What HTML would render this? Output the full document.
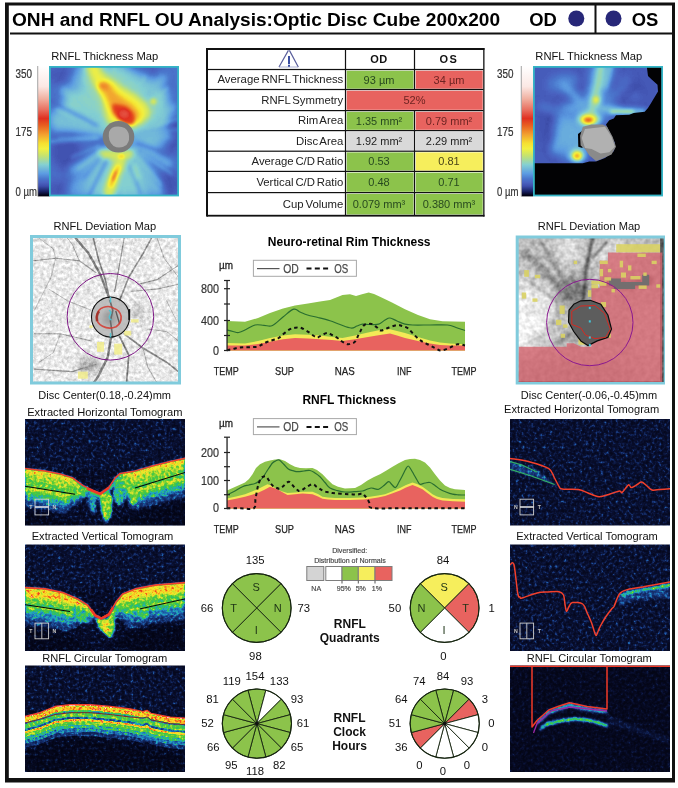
<!DOCTYPE html>
<html><head><meta charset="utf-8"><title>ONH and RNFL OU Analysis</title>
<style>
html,body{margin:0;padding:0;background:#fff;}
svg{display:block;font-family:"Liberation Sans", sans-serif;}
text{font-family:"Liberation Sans",sans-serif;}
</style></head><body>
<svg width="678" height="788" viewBox="0 0 678 788">
<rect x="0" y="0" width="678" height="788" fill="#fff"/>
<rect x="6.5" y="4" width="667" height="776" fill="none" stroke="#111" stroke-width="3"/>
<rect x="5" y="778" width="670" height="4.5" fill="#111"/>
<rect x="5" y="3" width="3.8" height="778" fill="#111"/>
<rect x="10" y="32.5" width="663" height="2" fill="#111"/>
<rect x="594.5" y="5" width="2" height="28" fill="#111"/>
<text x="12" y="26" font-size="19.1" font-weight="bold" text-anchor="start" fill="#000" >ONH and RNFL OU Analysis:Optic Disc Cube 200x200</text>
<text x="543" y="25.5" font-size="18.4" font-weight="bold" text-anchor="middle" fill="#000" >OD</text>
<text x="645" y="25.5" font-size="18.4" font-weight="bold" text-anchor="middle" fill="#000" >OS</text>
<circle cx="576.3" cy="18.5" r="8" fill="#272778"/>
<circle cx="613.5" cy="18.5" r="8" fill="#272778"/>
<rect x="207" y="49" width="276.5" height="166.3" fill="#fff"/>
<text x="379.0" y="63.25" font-size="11" font-weight="bold" text-anchor="middle" fill="#111" letter-spacing="0.6">OD</text>
<text x="449.0" y="63.25" font-size="11" font-weight="bold" text-anchor="middle" fill="#111" letter-spacing="1.6">OS</text>
<rect x="346.7" y="70.7" width="66.8" height="18.0" fill="#8cc34b"/>
<rect x="415.7" y="70.7" width="67.0" height="18.0" fill="#e8635f"/>
<text x="343.3" y="83.3" font-size="11.35" font-weight="normal" text-anchor="end" fill="#222" word-spacing="-1.3">Average RNFL Thickness</text>
<text x="379.0" y="83.5" font-size="11" font-weight="normal" text-anchor="middle" fill="#27491f" >93 µm</text>
<text x="449.0" y="83.5" font-size="11" font-weight="normal" text-anchor="middle" fill="#6e2422" >34 µm</text>
<rect x="346.7" y="90.7" width="136.0" height="19.099999999999994" fill="#e8635f"/>
<text x="343.3" y="103.85" font-size="11.35" font-weight="normal" text-anchor="end" fill="#222" word-spacing="-1.3">RNFL Symmetry</text>
<text x="414.5" y="104.05" font-size="11" font-weight="normal" text-anchor="middle" fill="#6e2422" >52%</text>
<rect x="346.7" y="111.8" width="66.8" height="18.0" fill="#8cc34b"/>
<rect x="415.7" y="111.8" width="67.0" height="18.0" fill="#e8635f"/>
<text x="343.3" y="124.39999999999999" font-size="11.35" font-weight="normal" text-anchor="end" fill="#222" word-spacing="-1.3">Rim Area</text>
<text x="379.0" y="124.6" font-size="11" font-weight="normal" text-anchor="middle" fill="#27491f" >1.35 mm²</text>
<text x="449.0" y="124.6" font-size="11" font-weight="normal" text-anchor="middle" fill="#6e2422" >0.79 mm²</text>
<rect x="346.7" y="131.79999999999998" width="66.8" height="18.599999999999994" fill="#d9d9d9"/>
<rect x="415.7" y="131.79999999999998" width="67.0" height="18.599999999999994" fill="#d9d9d9"/>
<text x="343.3" y="144.7" font-size="11.35" font-weight="normal" text-anchor="end" fill="#222" word-spacing="-1.3">Disc Area</text>
<text x="379.0" y="144.89999999999998" font-size="11" font-weight="normal" text-anchor="middle" fill="#222" >1.92 mm²</text>
<text x="449.0" y="144.89999999999998" font-size="11" font-weight="normal" text-anchor="middle" fill="#222" >2.29 mm²</text>
<rect x="346.7" y="152.39999999999998" width="66.8" height="18.200000000000017" fill="#8cc34b"/>
<rect x="415.7" y="152.39999999999998" width="67.0" height="18.200000000000017" fill="#f6ee5c"/>
<text x="343.3" y="165.10000000000002" font-size="11.35" font-weight="normal" text-anchor="end" fill="#222" word-spacing="-1.3">Average C/D Ratio</text>
<text x="379.0" y="165.3" font-size="11" font-weight="normal" text-anchor="middle" fill="#27491f" >0.53</text>
<text x="449.0" y="165.3" font-size="11" font-weight="normal" text-anchor="middle" fill="#4a4418" >0.81</text>
<rect x="346.7" y="172.6" width="66.8" height="19.19999999999999" fill="#8cc34b"/>
<rect x="415.7" y="172.6" width="67.0" height="19.19999999999999" fill="#8cc34b"/>
<text x="343.3" y="185.8" font-size="11.35" font-weight="normal" text-anchor="end" fill="#222" word-spacing="-1.3">Vertical C/D Ratio</text>
<text x="379.0" y="186.0" font-size="11" font-weight="normal" text-anchor="middle" fill="#27491f" >0.48</text>
<text x="449.0" y="186.0" font-size="11" font-weight="normal" text-anchor="middle" fill="#27491f" >0.71</text>
<rect x="346.7" y="193.79999999999998" width="66.8" height="20.700000000000017" fill="#8cc34b"/>
<rect x="415.7" y="193.79999999999998" width="67.0" height="20.700000000000017" fill="#8cc34b"/>
<text x="343.3" y="207.75" font-size="11.35" font-weight="normal" text-anchor="end" fill="#222" word-spacing="-1.3">Cup Volume</text>
<text x="379.0" y="207.95" font-size="11" font-weight="normal" text-anchor="middle" fill="#27491f" >0.079 mm³</text>
<text x="449.0" y="207.95" font-size="11" font-weight="normal" text-anchor="middle" fill="#27491f" >0.380 mm³</text>
<rect x="207" y="68.9" width="276.5" height="1.2" fill="#111"/>
<rect x="207" y="88.9" width="276.5" height="1.2" fill="#111"/>
<rect x="207" y="110.0" width="276.5" height="1.2" fill="#111"/>
<rect x="207" y="130.0" width="276.5" height="1.2" fill="#111"/>
<rect x="207" y="150.6" width="276.5" height="1.2" fill="#111"/>
<rect x="207" y="170.8" width="276.5" height="1.2" fill="#111"/>
<rect x="207" y="192.0" width="276.5" height="1.2" fill="#111"/>
<rect x="344.9" y="49" width="1.2" height="40.5" fill="#111"/>
<rect x="344.9" y="110.6" width="1.2" height="104.70000000000002" fill="#111"/>
<rect x="344.9" y="89.5" width="1.2" height="21.099999999999994" fill="#111"/>
<rect x="413.9" y="49" width="1.2" height="40.5" fill="#111"/>
<rect x="413.9" y="110.6" width="1.2" height="104.70000000000002" fill="#111"/>
<rect x="207" y="48" width="277.5" height="2" fill="#111"/>
<rect x="207" y="214.8" width="277.5" height="1.8" fill="#111"/>
<rect x="206" y="48" width="2" height="168.60000000000002" fill="#111"/>
<rect x="483.2" y="48" width="1.3" height="168.60000000000002" fill="#111"/>
<g fill="none"><path d="M279 67 L288.4 50.4 M289.4 50.4 L298.3 67" stroke="#5a5f9c" stroke-width="1.2"/><path d="M279 67 H298.3" stroke="#8a8fc0" stroke-width="0.7"/><path d="M289 56 V64.3" stroke="#3a4ea2" stroke-width="2"/><path d="M289 64.9 V66.7" stroke="#3a4ea2" stroke-width="2"/></g>
<text x="104.7" y="59.6" font-size="11.2" font-weight="normal" text-anchor="middle" fill="#111" >RNFL Thickness Map</text>
<text x="588.8" y="59.6" font-size="11.2" font-weight="normal" text-anchor="middle" fill="#111" >RNFL Thickness Map</text>
<text x="104.8" y="229.5" font-size="11.1" font-weight="normal" text-anchor="middle" fill="#111" >RNFL Deviation Map</text>
<text x="589" y="229.5" font-size="11.1" font-weight="normal" text-anchor="middle" fill="#111" >RNFL Deviation Map</text>
<text x="104.7" y="399" font-size="11" font-weight="normal" text-anchor="middle" fill="#111" >Disc Center(0.18,-0.24)mm</text>
<text x="589" y="399" font-size="11" font-weight="normal" text-anchor="middle" fill="#111" >Disc Center(-0.06,-0.45)mm</text>
<text x="104.8" y="415.7" font-size="11.1" font-weight="normal" text-anchor="middle" fill="#111" >Extracted Horizontal Tomogram</text>
<text x="581.7" y="412.9" font-size="11.1" font-weight="normal" text-anchor="middle" fill="#111" >Extracted Horizontal Tomogram</text>
<text x="102.5" y="540.2" font-size="11.1" font-weight="normal" text-anchor="middle" fill="#111" >Extracted Vertical Tomogram</text>
<text x="587" y="540.2" font-size="11.1" font-weight="normal" text-anchor="middle" fill="#111" >Extracted Vertical Tomogram</text>
<text x="104.7" y="661.7" font-size="11.1" font-weight="normal" text-anchor="middle" fill="#111" >RNFL Circular Tomogram</text>
<text x="589.3" y="661.7" font-size="11.1" font-weight="normal" text-anchor="middle" fill="#111" >RNFL Circular Tomogram</text>
<text x="15.5" y="78.3" font-size="12" font-weight="normal" text-anchor="start" fill="#333" textLength="16.5" lengthAdjust="spacingAndGlyphs" stroke="#333" stroke-width="0.2">350</text>
<text x="15.5" y="135.8" font-size="12" font-weight="normal" text-anchor="start" fill="#333" textLength="16.5" lengthAdjust="spacingAndGlyphs" stroke="#333" stroke-width="0.2">175</text>
<text x="15.5" y="196.3" font-size="12" font-weight="normal" text-anchor="start" fill="#333" textLength="21.5" lengthAdjust="spacingAndGlyphs" stroke="#333" stroke-width="0.2">0 µm</text>
<text x="497" y="78.3" font-size="12" font-weight="normal" text-anchor="start" fill="#333" textLength="16.5" lengthAdjust="spacingAndGlyphs" stroke="#333" stroke-width="0.2">350</text>
<text x="497" y="135.8" font-size="12" font-weight="normal" text-anchor="start" fill="#333" textLength="16.5" lengthAdjust="spacingAndGlyphs" stroke="#333" stroke-width="0.2">175</text>
<text x="497" y="196.3" font-size="12" font-weight="normal" text-anchor="start" fill="#333" textLength="21.5" lengthAdjust="spacingAndGlyphs" stroke="#333" stroke-width="0.2">0 µm</text>
<text x="349.2" y="245.8" font-size="12" font-weight="bold" text-anchor="middle" fill="#000" >Neuro-retinal Rim Thickness</text>
<path d="M227.0 321.0 L245.0 321.7 L258.0 318.0 L270.0 313.0 L283.0 308.5 L295.0 305.5 L308.0 303.5 L320.0 301.5 L330.0 300.0 L342.5 295.0 L350.0 294.3 L356.0 296.0 L362.0 294.2 L368.7 292.5 L374.0 294.0 L380.0 296.7 L392.0 302.5 L405.0 309.2 L418.0 315.0 L430.0 319.2 L442.5 321.2 L465.0 321.7 L465 350.5 L227 350.5 Z" fill="#8cc34b"/>
<path d="M227.0 343.0 L245.0 343.5 L258.0 341.0 L270.0 338.0 L283.0 335.5 L295.0 334.2 L308.0 334.8 L320.0 335.5 L332.0 337.0 L342.5 338.0 L355.0 335.5 L368.0 332.5 L380.0 330.0 L390.0 329.2 L397.0 331.0 L405.0 333.0 L418.0 337.0 L430.0 340.5 L440.0 342.5 L450.0 343.5 L465.0 344.2 L465 350.5 L227 350.5 Z" fill="#f3e957"/>
<path d="M227.0 345.5 L245.0 345.5 L258.0 344.0 L270.0 341.7 L283.0 339.3 L295.0 338.0 L308.0 338.6 L320.0 339.2 L332.0 340.0 L342.0 341.0 L355.0 339.2 L368.0 337.0 L380.0 335.0 L390.0 333.5 L397.0 335.5 L405.0 338.0 L418.0 341.0 L430.0 343.5 L440.0 345.0 L450.0 345.5 L465.0 345.5 L465 350.5 L227 350.5 Z" fill="#e8635f"/>
<path d="M227.0 330.0 C228.1 330.3 230.9 331.1 233.0 331.5 C235.1 331.9 236.4 332.9 238.7 332.5 C241.0 332.1 243.1 330.9 246.0 329.5 C248.9 328.1 251.8 325.8 255.0 325.0 C258.2 324.2 260.9 325.2 264.0 325.3 C267.1 325.4 269.1 327.0 272.5 325.5 C275.9 324.0 279.2 319.9 283.0 317.0 C286.8 314.1 290.6 310.1 293.7 309.2 C296.8 308.3 297.5 311.0 300.0 312.0 C302.5 313.0 304.3 314.0 307.5 315.0 C310.7 316.0 313.9 316.5 318.0 317.5 C322.1 318.5 326.0 319.4 330.0 320.7 C334.0 322.0 336.2 323.2 340.0 324.5 C343.8 325.8 347.9 327.7 351.0 328.0 C354.1 328.3 354.9 326.7 357.0 326.0 C359.1 325.3 360.2 324.5 362.5 324.2 C364.8 323.9 367.1 324.5 370.0 324.5 C372.9 324.5 376.0 325.0 378.7 324.2 C381.4 323.4 383.0 321.1 385.0 320.0 C387.0 318.9 387.8 317.8 390.0 318.0 C392.2 318.2 394.3 319.9 397.0 321.0 C399.7 322.1 402.2 323.5 405.0 324.2 C407.8 324.9 408.0 324.9 412.5 325.0 C417.0 325.1 423.7 325.0 430.0 325.0 C436.3 325.0 442.8 324.6 447.5 325.0 C452.2 325.4 452.9 326.5 456.0 327.5 C459.1 328.5 463.4 330.0 465.0 330.5" fill="none" stroke="#2a6e30" stroke-width="1.2"/>
<path d="M227.0 350.3 C228.1 350.1 230.7 349.5 233.0 349.0 C235.3 348.5 237.1 347.8 240.0 347.5 C242.9 347.2 245.8 347.3 249.0 347.2 C252.2 347.1 255.2 347.2 257.5 346.7 C259.8 346.2 260.2 345.4 262.0 344.5 C263.8 343.6 265.5 342.5 267.5 341.7 C269.5 340.9 271.0 340.7 273.0 340.0 C275.0 339.3 276.7 339.2 278.7 338.0 C280.7 336.8 282.0 335.1 284.0 333.5 C286.0 331.9 288.0 330.2 290.0 329.2 C292.0 328.2 293.2 328.1 295.0 327.8 C296.8 327.5 298.2 327.1 300.0 327.5 C301.8 327.9 303.2 329.0 305.0 330.0 C306.8 331.0 308.4 331.9 310.0 333.0 C311.6 334.1 312.6 335.2 314.0 336.0 C315.4 336.8 316.1 337.7 317.5 337.5 C318.9 337.3 320.2 335.8 322.0 335.0 C323.8 334.2 325.7 333.0 327.5 333.0 C329.3 333.0 330.2 334.1 332.0 335.0 C333.8 335.9 335.7 336.8 337.5 338.0 C339.3 339.2 340.2 340.4 342.0 341.5 C343.8 342.6 345.9 343.8 347.5 344.2 C349.1 344.6 349.6 343.9 351.0 343.5 C352.4 343.1 353.6 343.4 355.0 341.7 C356.4 340.0 357.4 336.9 359.0 334.0 C360.6 331.1 362.1 327.3 363.7 325.5 C365.3 323.7 366.4 324.2 368.0 324.0 C369.6 323.8 370.9 323.6 372.5 324.2 C374.1 324.8 375.4 326.4 377.0 327.5 C378.6 328.6 379.0 330.5 381.2 330.5 C383.4 330.5 386.1 328.5 389.0 327.5 C391.9 326.5 395.2 325.3 397.5 325.0 C399.8 324.7 400.2 325.5 402.0 326.0 C403.8 326.5 405.7 326.8 407.5 328.0 C409.3 329.2 410.2 330.7 412.0 332.5 C413.8 334.3 415.5 336.3 417.5 338.0 C419.5 339.7 420.8 340.6 423.0 342.0 C425.2 343.4 427.7 344.3 430.0 345.5 C432.3 346.7 434.0 347.6 436.0 348.5 C438.0 349.4 438.9 350.6 441.2 350.5 C443.5 350.4 446.1 349.1 449.0 348.0 C451.9 346.9 454.6 344.6 457.5 344.2 C460.4 343.8 463.6 345.3 465.0 345.5" fill="none" stroke="#111" stroke-width="2" stroke-dasharray="3.4 3.2"/>
<rect x="226.4" y="280.5" width="1.3" height="70.6" fill="#222"/>
<rect x="224" y="279.9" width="6" height="1.2" fill="#222"/>
<rect x="224" y="288.09999999999997" width="6" height="1.2" fill="#222"/>
<rect x="224" y="303.4" width="6" height="1.2" fill="#222"/>
<rect x="224" y="319.9" width="6" height="1.2" fill="#222"/>
<rect x="224" y="334.9" width="6" height="1.2" fill="#222"/>
<rect x="224" y="349.9" width="6" height="1.2" fill="#222"/>
<text x="219" y="292.9" font-size="12" font-weight="normal" text-anchor="end" fill="#333" textLength="18.0" lengthAdjust="spacingAndGlyphs" stroke="#333" stroke-width="0.2">800</text>
<text x="219" y="325.2" font-size="12" font-weight="normal" text-anchor="end" fill="#333" textLength="18.0" lengthAdjust="spacingAndGlyphs" stroke="#333" stroke-width="0.2">400</text>
<text x="219" y="354.7" font-size="12" font-weight="normal" text-anchor="end" fill="#333" textLength="6.0" lengthAdjust="spacingAndGlyphs" stroke="#333" stroke-width="0.2">0</text>
<text x="226" y="268.5" font-size="11" font-weight="normal" text-anchor="middle" fill="#222" textLength="14" lengthAdjust="spacingAndGlyphs" stroke="#222" stroke-width="0.3">µm</text>
<rect x="253.4" y="260.3" width="103" height="16" fill="#fff" stroke="#a8a8a8" stroke-width="1"/>
<path d="M257 268.6 H279.5" stroke="#555" stroke-width="1.2"/>
<path d="M306.5 268.6 H328.2" stroke="#111" stroke-width="2" stroke-dasharray="5 3.3"/>
<text x="291" y="273.0" font-size="12.5" font-weight="normal" text-anchor="middle" fill="#4a4a4a" textLength="15.5" lengthAdjust="spacingAndGlyphs" stroke="#4a4a4a" stroke-width="0.25">OD</text>
<text x="341.2" y="273.0" font-size="12.5" font-weight="normal" text-anchor="middle" fill="#4a4a4a" textLength="14" lengthAdjust="spacingAndGlyphs" stroke="#4a4a4a" stroke-width="0.25">OS</text>
<text x="349.3" y="404.3" font-size="12" font-weight="bold" text-anchor="middle" fill="#000" >RNFL Thickness</text>
<path d="M227.0 490.5 L236.0 486.5 L245.0 482.5 L249.0 479.0 L252.5 474.2 L256.0 468.0 L260.0 464.2 L265.0 461.8 L270.0 460.5 L275.0 459.6 L280.0 459.2 L285.0 461.0 L290.0 464.2 L295.0 466.8 L300.0 468.0 L306.0 468.2 L312.5 468.0 L317.0 470.0 L322.5 474.2 L327.0 479.0 L332.5 484.2 L338.0 486.8 L345.0 488.5 L355.0 488.0 L361.0 485.0 L367.5 480.5 L374.0 477.0 L380.0 474.2 L386.0 470.7 L392.5 466.7 L399.0 463.0 L405.0 460.0 L410.0 459.0 L415.0 458.7 L420.0 460.0 L425.0 462.5 L430.0 467.5 L435.0 474.2 L440.0 480.5 L445.0 485.5 L450.0 488.0 L455.0 489.2 L465.0 490.0 L465 508.5 L227 508.5 Z" fill="#8cc34b"/>
<path d="M227.0 498.5 L236.0 496.5 L245.0 494.2 L252.0 491.5 L257.5 489.2 L262.0 487.0 L267.5 484.2 L271.0 485.5 L275.0 488.0 L281.0 491.0 L287.5 493.0 L295.0 492.5 L302.5 491.7 L312.5 491.7 L318.0 494.0 L322.5 496.7 L328.0 497.6 L335.0 498.0 L350.0 498.0 L364.0 497.5 L370.0 496.7 L378.0 495.6 L385.0 494.2 L392.0 491.5 L400.0 488.0 L406.0 485.0 L412.5 482.5 L417.0 484.0 L422.5 486.7 L427.0 490.0 L432.5 494.2 L437.0 496.5 L442.5 498.0 L453.0 499.0 L465.0 499.2 L465 508.5 L227 508.5 Z" fill="#f3e957"/>
<path d="M227.0 500.5 L236.0 498.7 L245.0 496.7 L252.0 494.7 L257.5 493.0 L264.0 490.0 L270.0 486.7 L274.0 488.0 L277.5 489.2 L282.0 492.0 L287.5 495.0 L295.0 494.3 L302.5 493.5 L312.5 494.2 L318.0 496.5 L322.5 498.7 L328.0 499.6 L335.0 500.0 L350.0 500.0 L364.0 499.5 L370.0 498.7 L378.0 497.6 L385.0 496.0 L392.0 493.5 L400.0 490.5 L406.0 487.5 L412.5 485.0 L417.0 486.7 L422.5 489.2 L427.0 492.7 L432.5 496.7 L437.0 499.0 L442.5 500.5 L453.0 501.3 L465.0 501.7 L465 508.5 L227 508.5 Z" fill="#e8635f"/>
<path d="M227.0 495.0 C228.3 494.4 231.2 493.0 234.0 491.5 C236.8 490.0 239.8 487.9 242.5 486.7 C245.2 485.5 246.8 485.6 249.0 485.0 C251.2 484.4 253.2 484.2 255.0 483.5 C256.8 482.8 257.6 482.0 259.0 481.0 C260.4 480.0 261.1 479.8 262.5 478.0 C263.9 476.2 265.2 473.7 267.0 471.0 C268.8 468.3 270.9 464.8 272.5 463.0 C274.1 461.2 274.8 461.3 276.0 460.8 C277.2 460.3 277.8 459.3 279.2 460.0 C280.6 460.7 282.3 462.8 284.0 464.5 C285.7 466.2 287.1 468.1 288.7 469.2 C290.3 470.3 291.4 470.2 293.0 470.7 C294.6 471.1 295.5 471.6 297.5 471.7 C299.5 471.8 301.8 471.2 304.0 471.0 C306.2 470.8 308.0 470.1 310.0 470.5 C312.0 470.9 313.2 471.9 315.0 473.0 C316.8 474.1 318.2 475.0 320.0 476.7 C321.8 478.4 323.2 480.5 325.0 482.5 C326.8 484.5 327.8 486.6 330.0 488.0 C332.2 489.4 334.3 489.8 337.0 490.5 C339.7 491.2 341.9 491.8 345.0 492.0 C348.1 492.2 350.9 491.9 354.0 491.7 C357.1 491.5 360.2 491.4 362.5 491.0 C364.8 490.6 365.4 489.8 367.0 489.3 C368.6 488.8 369.8 488.1 371.2 488.0 C372.6 487.9 373.6 488.6 375.0 488.8 C376.4 489.0 377.1 489.8 378.7 489.2 C380.3 488.6 382.2 486.9 384.0 485.5 C385.8 484.1 387.3 481.8 388.7 481.7 C390.1 481.6 390.8 483.8 392.0 484.8 C393.2 485.8 394.2 488.0 395.5 487.5 C396.8 487.0 397.7 484.2 399.0 482.0 C400.3 479.8 401.3 477.8 402.5 475.5 C403.7 473.2 404.5 471.2 405.5 469.5 C406.5 467.8 407.2 466.0 408.2 466.0 C409.2 466.0 410.0 468.0 411.0 469.5 C412.0 471.0 412.6 472.3 413.7 474.2 C414.8 476.1 415.9 478.2 417.0 480.0 C418.1 481.8 418.6 483.7 420.0 484.2 C421.4 484.7 423.2 483.3 425.0 483.0 C426.8 482.7 428.2 482.1 430.0 482.5 C431.8 482.9 433.2 484.3 435.0 485.5 C436.8 486.7 438.0 488.0 440.0 489.2 C442.0 490.4 443.8 491.1 446.0 492.0 C448.2 492.9 450.3 493.7 452.5 494.2 C454.7 494.7 455.8 494.7 458.0 494.8 C460.2 494.9 463.7 495.0 465.0 495.0" fill="none" stroke="#2a6e30" stroke-width="1.2"/>
<path d="M227.0 508.3 C229.3 508.3 235.2 508.3 240.0 508.3 C244.8 508.3 250.9 510.0 253.7 508.3 C256.5 506.6 254.8 502.7 255.5 499.0 C256.2 495.3 256.9 491.0 257.5 488.0 C258.1 485.0 258.3 484.3 259.0 482.5 C259.7 480.7 260.3 479.1 261.2 478.0 C262.1 476.9 263.1 476.7 264.0 476.5 C264.9 476.3 265.3 476.0 266.2 476.7 C267.1 477.4 267.9 478.9 269.0 480.5 C270.1 482.1 271.2 484.2 272.5 485.5 C273.8 486.8 274.6 486.9 276.0 487.5 C277.4 488.1 278.6 489.1 280.0 488.7 C281.4 488.3 282.4 486.8 284.0 485.5 C285.6 484.2 287.3 481.9 288.7 481.7 C290.1 481.5 290.9 483.4 292.0 484.5 C293.1 485.6 294.0 487.0 295.0 488.0 C296.0 489.0 296.6 489.5 297.5 490.0 C298.4 490.5 298.5 491.4 300.0 491.0 C301.5 490.6 303.8 488.7 306.0 487.5 C308.2 486.3 310.5 484.3 312.5 484.2 C314.5 484.1 315.2 485.9 317.0 487.0 C318.8 488.1 320.7 489.6 322.5 490.5 C324.3 491.4 325.2 491.6 327.0 492.0 C328.8 492.4 330.0 492.7 332.5 493.0 C335.0 493.3 337.9 493.6 341.0 493.8 C344.1 494.0 347.1 494.1 350.0 494.2 C352.9 494.3 354.8 494.7 357.0 494.6 C359.2 494.5 361.1 493.2 362.5 493.5 C363.9 493.8 364.1 495.0 365.0 496.0 C365.9 497.0 366.6 497.8 367.5 499.2 C368.4 500.6 369.1 502.4 370.0 504.0 C370.9 505.6 367.1 507.2 372.5 508.0 C377.9 508.8 389.6 508.2 400.0 508.3 C410.4 508.4 418.3 508.3 430.0 508.3 C441.7 508.3 458.7 508.3 465.0 508.3" fill="none" stroke="#111" stroke-width="2" stroke-dasharray="3.4 3.2"/>
<rect x="226.4" y="437.2" width="1.3" height="71.9" fill="#222"/>
<rect x="224" y="436.59999999999997" width="6" height="1.2" fill="#222"/>
<rect x="224" y="451.9" width="6" height="1.2" fill="#222"/>
<rect x="224" y="466.09999999999997" width="6" height="1.2" fill="#222"/>
<rect x="224" y="479.9" width="6" height="1.2" fill="#222"/>
<rect x="224" y="494.09999999999997" width="6" height="1.2" fill="#222"/>
<rect x="224" y="507.9" width="6" height="1.2" fill="#222"/>
<text x="219" y="457.2" font-size="12" font-weight="normal" text-anchor="end" fill="#333" textLength="18.0" lengthAdjust="spacingAndGlyphs" stroke="#333" stroke-width="0.2">200</text>
<text x="219" y="485.2" font-size="12" font-weight="normal" text-anchor="end" fill="#333" textLength="18.0" lengthAdjust="spacingAndGlyphs" stroke="#333" stroke-width="0.2">100</text>
<text x="219" y="512.2" font-size="12" font-weight="normal" text-anchor="end" fill="#333" textLength="6.0" lengthAdjust="spacingAndGlyphs" stroke="#333" stroke-width="0.2">0</text>
<text x="226" y="426.7" font-size="11" font-weight="normal" text-anchor="middle" fill="#222" textLength="14" lengthAdjust="spacingAndGlyphs" stroke="#222" stroke-width="0.3">µm</text>
<rect x="253.4" y="418.6" width="103" height="16" fill="#fff" stroke="#a8a8a8" stroke-width="1"/>
<path d="M257 426.90000000000003 H279.5" stroke="#555" stroke-width="1.2"/>
<path d="M306.5 426.90000000000003 H328.2" stroke="#111" stroke-width="2" stroke-dasharray="5 3.3"/>
<text x="291" y="431.3" font-size="12.5" font-weight="normal" text-anchor="middle" fill="#4a4a4a" textLength="15.5" lengthAdjust="spacingAndGlyphs" stroke="#4a4a4a" stroke-width="0.25">OD</text>
<text x="341.2" y="431.3" font-size="12.5" font-weight="normal" text-anchor="middle" fill="#4a4a4a" textLength="14" lengthAdjust="spacingAndGlyphs" stroke="#4a4a4a" stroke-width="0.25">OS</text>
<text x="226.3" y="375" font-size="11.5" font-weight="normal" text-anchor="middle" fill="#222" textLength="25" lengthAdjust="spacingAndGlyphs" stroke="#222" stroke-width="0.25">TEMP</text>
<text x="284.5" y="375" font-size="11.5" font-weight="normal" text-anchor="middle" fill="#222" textLength="19" lengthAdjust="spacingAndGlyphs" stroke="#222" stroke-width="0.25">SUP</text>
<text x="344.8" y="375" font-size="11.5" font-weight="normal" text-anchor="middle" fill="#222" textLength="20" lengthAdjust="spacingAndGlyphs" stroke="#222" stroke-width="0.25">NAS</text>
<text x="404.2" y="375" font-size="11.5" font-weight="normal" text-anchor="middle" fill="#222" textLength="14.5" lengthAdjust="spacingAndGlyphs" stroke="#222" stroke-width="0.25">INF</text>
<text x="464" y="375" font-size="11.5" font-weight="normal" text-anchor="middle" fill="#222" textLength="25" lengthAdjust="spacingAndGlyphs" stroke="#222" stroke-width="0.25">TEMP</text>
<text x="226.3" y="533.2" font-size="11.5" font-weight="normal" text-anchor="middle" fill="#222" textLength="25" lengthAdjust="spacingAndGlyphs" stroke="#222" stroke-width="0.25">TEMP</text>
<text x="284.5" y="533.2" font-size="11.5" font-weight="normal" text-anchor="middle" fill="#222" textLength="19" lengthAdjust="spacingAndGlyphs" stroke="#222" stroke-width="0.25">SUP</text>
<text x="344.8" y="533.2" font-size="11.5" font-weight="normal" text-anchor="middle" fill="#222" textLength="20" lengthAdjust="spacingAndGlyphs" stroke="#222" stroke-width="0.25">NAS</text>
<text x="404.2" y="533.2" font-size="11.5" font-weight="normal" text-anchor="middle" fill="#222" textLength="14.5" lengthAdjust="spacingAndGlyphs" stroke="#222" stroke-width="0.25">INF</text>
<text x="464" y="533.2" font-size="11.5" font-weight="normal" text-anchor="middle" fill="#222" textLength="25" lengthAdjust="spacingAndGlyphs" stroke="#222" stroke-width="0.25">TEMP</text>
<path d="M256.7 608 L232.38 583.68 A34.4 34.4 0 0 1 281.02 583.68 Z" fill="#8cc34b" stroke="#15240f" stroke-width="0.9" stroke-linejoin="round"/>
<path d="M256.7 608 L281.02 583.68 A34.4 34.4 0 0 1 281.02 632.32 Z" fill="#8cc34b" stroke="#15240f" stroke-width="0.9" stroke-linejoin="round"/>
<path d="M256.7 608 L281.02 632.32 A34.4 34.4 0 0 1 232.38 632.32 Z" fill="#8cc34b" stroke="#15240f" stroke-width="0.9" stroke-linejoin="round"/>
<path d="M256.7 608 L232.38 632.32 A34.4 34.4 0 0 1 232.38 583.68 Z" fill="#8cc34b" stroke="#15240f" stroke-width="0.9" stroke-linejoin="round"/>
<circle cx="256.7" cy="608" r="34.4" fill="none" stroke="#15240f" stroke-width="1.1"/>
<text x="256.2" y="590.5" font-size="11" font-weight="normal" text-anchor="middle" fill="#1d3315" >S</text>
<text x="277.7" y="612" font-size="11" font-weight="normal" text-anchor="middle" fill="#1d3315" >N</text>
<text x="256.2" y="633.5" font-size="11" font-weight="normal" text-anchor="middle" fill="#1d3315" >I</text>
<text x="233.7" y="612" font-size="11" font-weight="normal" text-anchor="middle" fill="#1d3315" >T</text>
<text x="255.2" y="563.7" font-size="11.3" font-weight="normal" text-anchor="middle" fill="#111" >135</text>
<text x="303.7" y="611.7" font-size="11.3" font-weight="normal" text-anchor="middle" fill="#111" >73</text>
<text x="255.39999999999998" y="659.9" font-size="11.3" font-weight="normal" text-anchor="middle" fill="#111" >98</text>
<text x="207.0" y="611.7" font-size="11.3" font-weight="normal" text-anchor="middle" fill="#111" >66</text>
<path d="M444.6 608 L420.28 583.68 A34.4 34.4 0 0 1 468.92 583.68 Z" fill="#f6ee5c" stroke="#15240f" stroke-width="0.9" stroke-linejoin="round"/>
<path d="M444.6 608 L468.92 583.68 A34.4 34.4 0 0 1 468.92 632.32 Z" fill="#e8635f" stroke="#15240f" stroke-width="0.9" stroke-linejoin="round"/>
<path d="M444.6 608 L468.92 632.32 A34.4 34.4 0 0 1 420.28 632.32 Z" fill="#ffffff" stroke="#15240f" stroke-width="0.9" stroke-linejoin="round"/>
<path d="M444.6 608 L420.28 632.32 A34.4 34.4 0 0 1 420.28 583.68 Z" fill="#8cc34b" stroke="#15240f" stroke-width="0.9" stroke-linejoin="round"/>
<circle cx="444.6" cy="608" r="34.4" fill="none" stroke="#15240f" stroke-width="1.1"/>
<text x="444.1" y="590.5" font-size="11" font-weight="normal" text-anchor="middle" fill="#1d3315" >S</text>
<text x="465.6" y="612" font-size="11" font-weight="normal" text-anchor="middle" fill="#1d3315" >T</text>
<text x="444.1" y="633.5" font-size="11" font-weight="normal" text-anchor="middle" fill="#1d3315" >I</text>
<text x="421.6" y="612" font-size="11" font-weight="normal" text-anchor="middle" fill="#1d3315" >N</text>
<text x="443.1" y="563.7" font-size="11.3" font-weight="normal" text-anchor="middle" fill="#111" >84</text>
<text x="491.6" y="611.7" font-size="11.3" font-weight="normal" text-anchor="middle" fill="#111" >1</text>
<text x="443.3" y="659.9" font-size="11.3" font-weight="normal" text-anchor="middle" fill="#111" >0</text>
<text x="394.90000000000003" y="611.7" font-size="11.3" font-weight="normal" text-anchor="middle" fill="#111" >50</text>
<text x="349.7" y="553" font-size="7.1" font-weight="normal" text-anchor="middle" fill="#444" stroke="#444" stroke-width="0.15">Diversified:</text>
<text x="350" y="562.6" font-size="7.1" font-weight="normal" text-anchor="middle" fill="#444" stroke="#444" stroke-width="0.15">Distribution of Normals</text>
<rect x="306.8" y="566.5" width="17.0" height="14" fill="#d4d4d4" stroke="#7d7d7d" stroke-width="1"/>
<rect x="325.8" y="566.5" width="16.19999999999999" height="14" fill="#fff" stroke="#7d7d7d" stroke-width="1"/>
<rect x="342" y="566.5" width="16.30000000000001" height="14" fill="#8cc34b" stroke="#7d7d7d" stroke-width="1"/>
<rect x="358.3" y="566.5" width="16.69999999999999" height="14" fill="#f6ee5c" stroke="#7d7d7d" stroke-width="1"/>
<rect x="375" y="566.5" width="17" height="14" fill="#e8635f" stroke="#7d7d7d" stroke-width="1"/>
<rect x="341.5" y="580.5" width="1" height="3" fill="#555"/>
<rect x="357.8" y="580.5" width="1" height="3" fill="#555"/>
<rect x="374.5" y="580.5" width="1" height="3" fill="#555"/>
<text x="316.3" y="591.3" font-size="7.1" font-weight="normal" text-anchor="middle" fill="#444" stroke="#444" stroke-width="0.15">NA</text>
<text x="343.8" y="591.3" font-size="7.1" font-weight="normal" text-anchor="middle" fill="#444" stroke="#444" stroke-width="0.15">95%</text>
<text x="360.8" y="591.3" font-size="7.1" font-weight="normal" text-anchor="middle" fill="#444" stroke="#444" stroke-width="0.15">5%</text>
<text x="377" y="591.3" font-size="7.1" font-weight="normal" text-anchor="middle" fill="#444" stroke="#444" stroke-width="0.15">1%</text>
<text x="349.8" y="628" font-size="12" font-weight="bold" text-anchor="middle" fill="#111" >RNFL</text>
<text x="349.8" y="642" font-size="12" font-weight="bold" text-anchor="middle" fill="#111" >Quadrants</text>
<text x="349.5" y="722" font-size="12" font-weight="bold" text-anchor="middle" fill="#111" >RNFL</text>
<text x="349.5" y="736" font-size="12" font-weight="bold" text-anchor="middle" fill="#111" >Clock</text>
<text x="349.5" y="750.2" font-size="12" font-weight="bold" text-anchor="middle" fill="#111" >Hours</text>
<path d="M256.9 723.6 L247.94 690.18 A34.6 34.6 0 0 1 265.86 690.18 Z" fill="#8cc34b" stroke="#15240f" stroke-width="0.9" stroke-linejoin="round"/>
<path d="M256.9 723.6 L265.86 690.18 A34.6 34.6 0 0 1 281.37 699.13 Z" fill="#ffffff" stroke="#15240f" stroke-width="0.9" stroke-linejoin="round"/>
<path d="M256.9 723.6 L281.37 699.13 A34.6 34.6 0 0 1 290.32 714.64 Z" fill="#8cc34b" stroke="#15240f" stroke-width="0.9" stroke-linejoin="round"/>
<path d="M256.9 723.6 L290.32 714.64 A34.6 34.6 0 0 1 290.32 732.56 Z" fill="#8cc34b" stroke="#15240f" stroke-width="0.9" stroke-linejoin="round"/>
<path d="M256.9 723.6 L290.32 732.56 A34.6 34.6 0 0 1 281.37 748.07 Z" fill="#8cc34b" stroke="#15240f" stroke-width="0.9" stroke-linejoin="round"/>
<path d="M256.9 723.6 L281.37 748.07 A34.6 34.6 0 0 1 265.86 757.02 Z" fill="#8cc34b" stroke="#15240f" stroke-width="0.9" stroke-linejoin="round"/>
<path d="M256.9 723.6 L265.86 757.02 A34.6 34.6 0 0 1 247.94 757.02 Z" fill="#8cc34b" stroke="#15240f" stroke-width="0.9" stroke-linejoin="round"/>
<path d="M256.9 723.6 L247.94 757.02 A34.6 34.6 0 0 1 232.43 748.07 Z" fill="#8cc34b" stroke="#15240f" stroke-width="0.9" stroke-linejoin="round"/>
<path d="M256.9 723.6 L232.43 748.07 A34.6 34.6 0 0 1 223.48 732.56 Z" fill="#8cc34b" stroke="#15240f" stroke-width="0.9" stroke-linejoin="round"/>
<path d="M256.9 723.6 L223.48 732.56 A34.6 34.6 0 0 1 223.48 714.64 Z" fill="#8cc34b" stroke="#15240f" stroke-width="0.9" stroke-linejoin="round"/>
<path d="M256.9 723.6 L223.48 714.64 A34.6 34.6 0 0 1 232.43 699.13 Z" fill="#8cc34b" stroke="#15240f" stroke-width="0.9" stroke-linejoin="round"/>
<path d="M256.9 723.6 L232.43 699.13 A34.6 34.6 0 0 1 247.94 690.18 Z" fill="#8cc34b" stroke="#15240f" stroke-width="0.9" stroke-linejoin="round"/>
<circle cx="256.9" cy="723.6" r="34.6" fill="none" stroke="#15240f" stroke-width="1.1"/>
<circle cx="256.9" cy="723.6" r="1.8" fill="#111"/>
<text x="255" y="679.5" font-size="11.3" font-weight="normal" text-anchor="middle" fill="#111" >154</text>
<text x="279.3" y="685.3" font-size="11.3" font-weight="normal" text-anchor="middle" fill="#111" >133</text>
<text x="297" y="703.3" font-size="11.3" font-weight="normal" text-anchor="middle" fill="#111" >93</text>
<text x="303" y="726.5" font-size="11.3" font-weight="normal" text-anchor="middle" fill="#111" >61</text>
<text x="297" y="750.8" font-size="11.3" font-weight="normal" text-anchor="middle" fill="#111" >65</text>
<text x="279.3" y="768.5" font-size="11.3" font-weight="normal" text-anchor="middle" fill="#111" >82</text>
<text x="255" y="774.8" font-size="11.3" font-weight="normal" text-anchor="middle" fill="#111" >118</text>
<text x="231.3" y="768.5" font-size="11.3" font-weight="normal" text-anchor="middle" fill="#111" >95</text>
<text x="213.3" y="750.8" font-size="11.3" font-weight="normal" text-anchor="middle" fill="#111" >66</text>
<text x="207.5" y="726.5" font-size="11.3" font-weight="normal" text-anchor="middle" fill="#111" >52</text>
<text x="212.5" y="703.3" font-size="11.3" font-weight="normal" text-anchor="middle" fill="#111" >81</text>
<text x="231.8" y="685.3" font-size="11.3" font-weight="normal" text-anchor="middle" fill="#111" >119</text>
<path d="M444.7 723.6 L435.74 690.18 A34.6 34.6 0 0 1 453.66 690.18 Z" fill="#8cc34b" stroke="#15240f" stroke-width="0.9" stroke-linejoin="round"/>
<path d="M444.7 723.6 L453.66 690.18 A34.6 34.6 0 0 1 469.17 699.13 Z" fill="#8cc34b" stroke="#15240f" stroke-width="0.9" stroke-linejoin="round"/>
<path d="M444.7 723.6 L469.17 699.13 A34.6 34.6 0 0 1 478.12 714.64 Z" fill="#e8635f" stroke="#15240f" stroke-width="0.9" stroke-linejoin="round"/>
<path d="M444.7 723.6 L478.12 714.64 A34.6 34.6 0 0 1 478.12 732.56 Z" fill="#ffffff" stroke="#15240f" stroke-width="0.9" stroke-linejoin="round"/>
<path d="M444.7 723.6 L478.12 732.56 A34.6 34.6 0 0 1 469.17 748.07 Z" fill="#ffffff" stroke="#15240f" stroke-width="0.9" stroke-linejoin="round"/>
<path d="M444.7 723.6 L469.17 748.07 A34.6 34.6 0 0 1 453.66 757.02 Z" fill="#ffffff" stroke="#15240f" stroke-width="0.9" stroke-linejoin="round"/>
<path d="M444.7 723.6 L453.66 757.02 A34.6 34.6 0 0 1 435.74 757.02 Z" fill="#ffffff" stroke="#15240f" stroke-width="0.9" stroke-linejoin="round"/>
<path d="M444.7 723.6 L435.74 757.02 A34.6 34.6 0 0 1 420.23 748.07 Z" fill="#ffffff" stroke="#15240f" stroke-width="0.9" stroke-linejoin="round"/>
<path d="M444.7 723.6 L420.23 748.07 A34.6 34.6 0 0 1 411.28 732.56 Z" fill="#e8635f" stroke="#15240f" stroke-width="0.9" stroke-linejoin="round"/>
<path d="M444.7 723.6 L411.28 732.56 A34.6 34.6 0 0 1 411.28 714.64 Z" fill="#8cc34b" stroke="#15240f" stroke-width="0.9" stroke-linejoin="round"/>
<path d="M444.7 723.6 L411.28 714.64 A34.6 34.6 0 0 1 420.23 699.13 Z" fill="#8cc34b" stroke="#15240f" stroke-width="0.9" stroke-linejoin="round"/>
<path d="M444.7 723.6 L420.23 699.13 A34.6 34.6 0 0 1 435.74 690.18 Z" fill="#8cc34b" stroke="#15240f" stroke-width="0.9" stroke-linejoin="round"/>
<circle cx="444.7" cy="723.6" r="34.6" fill="none" stroke="#15240f" stroke-width="1.1"/>
<circle cx="444.7" cy="723.6" r="1.8" fill="#111"/>
<text x="443" y="679.5" font-size="11.3" font-weight="normal" text-anchor="middle" fill="#111" >84</text>
<text x="467" y="685.3" font-size="11.3" font-weight="normal" text-anchor="middle" fill="#111" >93</text>
<text x="485" y="703.3" font-size="11.3" font-weight="normal" text-anchor="middle" fill="#111" >3</text>
<text x="491.3" y="727" font-size="11.3" font-weight="normal" text-anchor="middle" fill="#111" >0</text>
<text x="485" y="750.8" font-size="11.3" font-weight="normal" text-anchor="middle" fill="#111" >0</text>
<text x="467" y="768.5" font-size="11.3" font-weight="normal" text-anchor="middle" fill="#111" >0</text>
<text x="443" y="774.8" font-size="11.3" font-weight="normal" text-anchor="middle" fill="#111" >0</text>
<text x="419.3" y="768.5" font-size="11.3" font-weight="normal" text-anchor="middle" fill="#111" >0</text>
<text x="401.3" y="750.8" font-size="11.3" font-weight="normal" text-anchor="middle" fill="#111" >36</text>
<text x="395" y="727" font-size="11.3" font-weight="normal" text-anchor="middle" fill="#111" >51</text>
<text x="401.3" y="703.3" font-size="11.3" font-weight="normal" text-anchor="middle" fill="#111" >64</text>
<text x="419.3" y="685.3" font-size="11.3" font-weight="normal" text-anchor="middle" fill="#111" >74</text>
<defs>
<filter id="jet" filterUnits="userSpaceOnUse" x="0" y="0" width="678" height="788" color-interpolation-filters="sRGB">
<feComponentTransfer><feFuncR type="table" tableValues="0.000 0.015 0.045 0.075 0.109 0.147 0.186 0.224 0.253 0.272 0.290 0.290 0.290 0.295 0.313 0.331 0.349 0.370 0.394 0.418 0.443 0.467 0.491 0.516 0.553 0.592 0.631 0.670 0.709 0.747 0.784 0.819 0.853 0.888 0.922 0.950 0.954 0.958 0.962 0.964 0.961 0.959 0.957 0.954 0.952 0.949 0.944 0.938 0.932 0.925 0.919 0.913 0.907 0.901 0.895 0.889 0.883 0.879 0.884 0.889 0.894 0.899 0.904 0.908 0.913 0.917 0.921 0.925 0.929 0.933 0.937 0.941 0.946 0.950 0.955 0.960 0.965 0.970 0.974 0.979 0.984 0.985 0.986 0.987 0.988 0.989 0.991 0.992 0.993 0.994 0.995 0.996 0.997 0.998 0.999 1.000"/><feFuncG type="table" tableValues="0.000 0.015 0.057 0.099 0.144 0.190 0.236 0.282 0.322 0.353 0.385 0.413 0.442 0.473 0.511 0.550 0.588 0.624 0.655 0.687 0.718 0.750 0.781 0.813 0.826 0.837 0.848 0.858 0.869 0.880 0.891 0.902 0.912 0.923 0.933 0.937 0.921 0.905 0.889 0.865 0.827 0.788 0.749 0.710 0.671 0.632 0.593 0.555 0.516 0.477 0.438 0.399 0.362 0.325 0.289 0.253 0.217 0.196 0.234 0.273 0.312 0.351 0.390 0.429 0.463 0.495 0.527 0.559 0.592 0.624 0.656 0.688 0.713 0.737 0.762 0.786 0.810 0.835 0.859 0.883 0.908 0.915 0.921 0.927 0.933 0.940 0.946 0.952 0.958 0.964 0.970 0.976 0.982 0.988 0.994 1.000"/><feFuncB type="table" tableValues="0.031 0.106 0.209 0.313 0.406 0.483 0.559 0.636 0.690 0.722 0.753 0.770 0.788 0.806 0.828 0.850 0.872 0.883 0.873 0.863 0.853 0.844 0.834 0.824 0.769 0.710 0.650 0.591 0.531 0.472 0.423 0.387 0.351 0.315 0.279 0.247 0.231 0.215 0.199 0.188 0.188 0.188 0.188 0.188 0.188 0.188 0.180 0.170 0.160 0.151 0.141 0.131 0.125 0.125 0.125 0.125 0.125 0.133 0.172 0.211 0.249 0.288 0.327 0.366 0.400 0.432 0.464 0.497 0.529 0.561 0.593 0.626 0.655 0.685 0.714 0.744 0.773 0.803 0.833 0.862 0.892 0.901 0.908 0.915 0.922 0.929 0.936 0.943 0.950 0.957 0.965 0.972 0.979 0.986 0.993 1.000"/></feComponentTransfer></filter>
<filter id="bl0" filterUnits="userSpaceOnUse" x="-40" y="-40" width="260" height="260" color-interpolation-filters="sRGB"><feGaussianBlur stdDeviation="1"/></filter>
<filter id="bl1" filterUnits="userSpaceOnUse" x="-40" y="-40" width="260" height="260" color-interpolation-filters="sRGB"><feGaussianBlur stdDeviation="1.6"/></filter>
<filter id="bl2" filterUnits="userSpaceOnUse" x="-40" y="-40" width="260" height="260" color-interpolation-filters="sRGB"><feGaussianBlur stdDeviation="2.5"/></filter>
<filter id="bl3" filterUnits="userSpaceOnUse" x="-40" y="-40" width="260" height="260" color-interpolation-filters="sRGB"><feGaussianBlur stdDeviation="3.5"/></filter>
<filter id="bl4" filterUnits="userSpaceOnUse" x="-40" y="-40" width="260" height="260" color-interpolation-filters="sRGB"><feGaussianBlur stdDeviation="5"/></filter>
<filter id="bl5" filterUnits="userSpaceOnUse" x="-40" y="-40" width="260" height="260" color-interpolation-filters="sRGB"><feGaussianBlur stdDeviation="7"/></filter>
<linearGradient id="cbar" x1="0" y1="0" x2="0" y2="1"><stop offset="0.000" stop-color="rgb(255,255,255)"/><stop offset="0.157" stop-color="rgb(251,232,228)"/><stop offset="0.252" stop-color="rgb(240,176,160)"/><stop offset="0.334" stop-color="rgb(232,112,96)"/><stop offset="0.402" stop-color="rgb(224,48,32)"/><stop offset="0.457" stop-color="rgb(232,96,32)"/><stop offset="0.525" stop-color="rgb(242,160,48)"/><stop offset="0.593" stop-color="rgb(246,224,48)"/><stop offset="0.634" stop-color="rgb(242,240,64)"/><stop offset="0.689" stop-color="rgb(196,226,112)"/><stop offset="0.757" stop-color="rgb(132,208,210)"/><stop offset="0.825" stop-color="rgb(92,156,226)"/><stop offset="0.866" stop-color="rgb(74,118,204)"/><stop offset="0.895" stop-color="rgb(74,98,192)"/><stop offset="0.921" stop-color="rgb(62,78,172)"/><stop offset="0.962" stop-color="rgb(24,32,96)"/><stop offset="0.989" stop-color="rgb(4,4,28)"/><stop offset="1.000" stop-color="rgb(0,0,8)"/></linearGradient>
<clipPath id="clipmap"><rect x="0" y="0" width="130" height="130"/></clipPath>
</defs>
<rect x="38" y="66" width="11.5" height="130.4" fill="url(#cbar)"/>
<rect x="37.3" y="66" width="0.9" height="130.4" fill="#999"/>
<rect x="521.5" y="66" width="11.5" height="130.4" fill="url(#cbar)"/>
<rect x="520.8" y="66" width="0.9" height="130.4" fill="#999"/>
<g transform="translate(49,66)">
<g clip-path="url(#clipmap)"><g filter="url(#jet)"><g filter="url(#bl0)"><rect x="-5" y="-5" width="140" height="140" fill="rgb(33,33,33)"/>
<ellipse cx="17" cy="86" rx="16" ry="19" fill="rgb(22,22,22)" filter="url(#bl4)"/>
<ellipse cx="125" cy="66" rx="8" ry="24" fill="rgb(22,22,22)" filter="url(#bl4)"/>
<ellipse cx="12" cy="9" rx="16" ry="10" fill="rgb(24,24,24)" filter="url(#bl4)"/>
<ellipse cx="94" cy="5" rx="15" ry="7" fill="rgb(23,23,23)" filter="url(#bl3)"/>
<ellipse cx="9" cy="123" rx="13" ry="9" fill="rgb(23,23,23)" filter="url(#bl4)"/>
<ellipse cx="120" cy="118" rx="13" ry="14" fill="rgb(23,23,23)" filter="url(#bl4)"/>
<ellipse cx="40" cy="120" rx="7" ry="10" fill="rgb(26,26,26)" filter="url(#bl3)"/>
<path d="M28.0 0.0 L75.0 0.0 L100.0 8.0 L120.0 28.0 L116.0 64.0 L80.0 72.0 L55.0 68.0 L30.0 64.0 L3.0 64.0 L2.0 46.0 L26.0 38.0 L18.0 22.0 Z" fill="rgb(50,50,50)" filter="url(#bl4)"/>
<path d="M34.0 0.0 L70.0 0.0 L90.0 14.0 L116.0 26.0 L118.0 58.0 L90.0 68.0 L58.0 68.0 L28.0 58.0 L10.0 42.0 L24.0 24.0 L32.0 28.0 Z" fill="rgb(65,65,65)" filter="url(#bl4)"/>
<path d="M2.0 48.0 L30.0 44.0 L56.0 54.0 L56.0 67.0 L30.0 64.0 L4.0 62.0 Z" fill="rgb(57,57,57)" filter="url(#bl3)"/>
<path d="M14.0 24.0 L40.0 46.0 L56.0 60.0" fill="none" stroke="rgb(64,64,64)" stroke-width="6" stroke-linecap="round" stroke-linejoin="round" filter="url(#bl3)"/>
<path d="M85.0 62.0 L124.0 42.0" fill="none" stroke="rgb(60,60,60)" stroke-width="7" stroke-linecap="round" stroke-linejoin="round" filter="url(#bl3)"/>
<path d="M86.0 72.0 L120.0 70.0" fill="none" stroke="rgb(57,57,57)" stroke-width="7" stroke-linecap="round" stroke-linejoin="round" filter="url(#bl3)"/>
<path d="M84.0 80.0 L120.0 98.0" fill="none" stroke="rgb(57,57,57)" stroke-width="7" stroke-linecap="round" stroke-linejoin="round" filter="url(#bl3)"/>
<path d="M88.0 40.0 L114.0 12.0" fill="none" stroke="rgb(57,57,57)" stroke-width="7" stroke-linecap="round" stroke-linejoin="round" filter="url(#bl3)"/>
<ellipse cx="100" cy="74" rx="14" ry="14" fill="rgb(55,55,55)" filter="url(#bl4)"/>
<path d="M50.0 84.0 L90.0 84.0 L106.0 104.0 L114.0 130.0 L18.0 130.0 L28.0 108.0 Z" fill="rgb(50,50,50)" filter="url(#bl4)"/>
<path d="M53.0 84.0 L88.0 84.0 L96.0 104.0 L98.0 130.0 L36.0 130.0 L44.0 106.0 Z" fill="rgb(62,62,62)" filter="url(#bl4)"/>
<path d="M60.0 86.0 L24.0 104.0" fill="none" stroke="rgb(55,55,55)" stroke-width="7" stroke-linecap="round" stroke-linejoin="round" filter="url(#bl3)"/>
<path d="M82.0 88.0 L110.0 126.0" fill="none" stroke="rgb(57,57,57)" stroke-width="6" stroke-linecap="round" stroke-linejoin="round" filter="url(#bl3)"/>
<path d="M59.7 90.3 L39.3 131.2" fill="none" stroke="rgb(26,26,26)" stroke-width="3.3140388671860936" stroke-linecap="round" stroke-linejoin="round" filter="url(#bl1)" opacity="0.55"/>
<path d="M91.9 85.9 L132.0 112.8" fill="none" stroke="rgb(31,31,31)" stroke-width="2.059993053507176" stroke-linecap="round" stroke-linejoin="round" filter="url(#bl1)" opacity="0.55"/>
<path d="M50.4 79.2 L23.1 91.3" fill="none" stroke="rgb(60,60,60)" stroke-width="2.094576809726383" stroke-linecap="round" stroke-linejoin="round" filter="url(#bl1)" opacity="0.55"/>
<path d="M40.7 58.3 L8.2 44.0" fill="none" stroke="rgb(64,64,64)" stroke-width="3.516334307931209" stroke-linecap="round" stroke-linejoin="round" filter="url(#bl1)" opacity="0.55"/>
<path d="M47.6 59.3 L1.1 34.8" fill="none" stroke="rgb(26,26,26)" stroke-width="2.890663836699348" stroke-linecap="round" stroke-linejoin="round" filter="url(#bl1)" opacity="0.55"/>
<path d="M86.3 89.4 L112.5 118.5" fill="none" stroke="rgb(64,64,64)" stroke-width="2.493570918563095" stroke-linecap="round" stroke-linejoin="round" filter="url(#bl1)" opacity="0.55"/>
<path d="M78.4 50.5 L95.9 10.9" fill="none" stroke="rgb(66,66,66)" stroke-width="2.30059364285943" stroke-linecap="round" stroke-linejoin="round" filter="url(#bl1)" opacity="0.55"/>
<path d="M92.9 87.2 L122.6 108.1" fill="none" stroke="rgb(64,64,64)" stroke-width="2.3295339405109226" stroke-linecap="round" stroke-linejoin="round" filter="url(#bl1)" opacity="0.55"/>
<path d="M58.9 48.0 L45.2 18.8" fill="none" stroke="rgb(64,64,64)" stroke-width="3.4775062138221786" stroke-linecap="round" stroke-linejoin="round" filter="url(#bl1)" opacity="0.55"/>
<path d="M54.7 88.4 L35.1 111.6" fill="none" stroke="rgb(31,31,31)" stroke-width="2.130968017273232" stroke-linecap="round" stroke-linejoin="round" filter="url(#bl1)" opacity="0.55"/>
<path d="M61.4 95.5 L51.4 126.2" fill="none" stroke="rgb(60,60,60)" stroke-width="2.4607004238242984" stroke-linecap="round" stroke-linejoin="round" filter="url(#bl1)" opacity="0.55"/>
<path d="M90.8 68.1 L129.6 63.3" fill="none" stroke="rgb(55,55,55)" stroke-width="2.2431752554568076" stroke-linecap="round" stroke-linejoin="round" filter="url(#bl1)" opacity="0.55"/>
<path d="M49.1 72.2 L1.6 75.5" fill="none" stroke="rgb(64,64,64)" stroke-width="2.9168415044438145" stroke-linecap="round" stroke-linejoin="round" filter="url(#bl1)" opacity="0.55"/>
<path d="M86.4 54.0 L118.3 22.3" fill="none" stroke="rgb(64,64,64)" stroke-width="2.79467967247838" stroke-linecap="round" stroke-linejoin="round" filter="url(#bl1)" opacity="0.55"/>
<path d="M75.5 50.9 L84.3 22.2" fill="none" stroke="rgb(55,55,55)" stroke-width="2.758557339871431" stroke-linecap="round" stroke-linejoin="round" filter="url(#bl1)" opacity="0.55"/>
<path d="M58.9 53.0 L34.0 11.6" fill="none" stroke="rgb(66,66,66)" stroke-width="2.924713969148349" stroke-linecap="round" stroke-linejoin="round" filter="url(#bl1)" opacity="0.55"/>
<path d="M58.9 47.8 L40.4 7.7" fill="none" stroke="rgb(66,66,66)" stroke-width="2.555208409101521" stroke-linecap="round" stroke-linejoin="round" filter="url(#bl1)" opacity="0.55"/>
<path d="M92.1 62.0 L131.3 46.6" fill="none" stroke="rgb(60,60,60)" stroke-width="2.0943270709300967" stroke-linecap="round" stroke-linejoin="round" filter="url(#bl1)" opacity="0.55"/>
<path d="M72.0 49.4 L75.8 15.7" fill="none" stroke="rgb(60,60,60)" stroke-width="3.4669059618880986" stroke-linecap="round" stroke-linejoin="round" filter="url(#bl1)" opacity="0.55"/>
<path d="M47.5 71.3 L9.5 72.1" fill="none" stroke="rgb(55,55,55)" stroke-width="3.41341412230642" stroke-linecap="round" stroke-linejoin="round" filter="url(#bl1)" opacity="0.55"/>
<path d="M82.3 43.3 L93.3 19.7" fill="none" stroke="rgb(60,60,60)" stroke-width="3.5783473296018977" stroke-linecap="round" stroke-linejoin="round" filter="url(#bl1)" opacity="0.55"/>
<path d="M59.4 48.4 L47.0 20.7" fill="none" stroke="rgb(26,26,26)" stroke-width="2.2819483655845927" stroke-linecap="round" stroke-linejoin="round" filter="url(#bl1)" opacity="0.55"/>
<path d="M72.1 93.5 L76.6 132.9" fill="none" stroke="rgb(64,64,64)" stroke-width="2.2917485983699155" stroke-linecap="round" stroke-linejoin="round" filter="url(#bl1)" opacity="0.55"/>
<path d="M65.2 92.1 L56.7 133.6" fill="none" stroke="rgb(64,64,64)" stroke-width="2.906145957930227" stroke-linecap="round" stroke-linejoin="round" filter="url(#bl1)" opacity="0.55"/>
<path d="M96.6 62.6 L130.2 52.4" fill="none" stroke="rgb(64,64,64)" stroke-width="3.047946341946126" stroke-linecap="round" stroke-linejoin="round" filter="url(#bl1)" opacity="0.55"/>
<path d="M67.9 45.4 L64.7 -3.2" fill="none" stroke="rgb(66,66,66)" stroke-width="3.276596993914506" stroke-linecap="round" stroke-linejoin="round" filter="url(#bl1)" opacity="0.55"/>
<path d="M50.2 86.3 L29.6 102.8" fill="none" stroke="rgb(66,66,66)" stroke-width="2.640708208826158" stroke-linecap="round" stroke-linejoin="round" filter="url(#bl1)" opacity="0.55"/>
<path d="M81.1 100.4 L91.8 127.8" fill="none" stroke="rgb(26,26,26)" stroke-width="2.5440858435717493" stroke-linecap="round" stroke-linejoin="round" filter="url(#bl1)" opacity="0.55"/>
<path d="M88.4 77.3 L119.2 87.8" fill="none" stroke="rgb(26,26,26)" stroke-width="3.518318013711094" stroke-linecap="round" stroke-linejoin="round" filter="url(#bl1)" opacity="0.55"/>
<path d="M53.8 57.1 L28.5 35.3" fill="none" stroke="rgb(60,60,60)" stroke-width="2.237680776529426" stroke-linecap="round" stroke-linejoin="round" filter="url(#bl1)" opacity="0.55"/>
<path d="M35.0 -3.0 L51.0 -3.0 L55.0 7.0 L66.0 13.0 L76.0 20.0 L88.0 27.0 L100.0 37.0 L104.0 49.0 L95.0 59.0 L84.0 63.0 L58.0 59.0 L54.0 47.0 L52.0 38.0 L48.0 29.0 L42.0 18.0 L38.0 8.0 Z" fill="rgb(76,76,76)" filter="url(#bl3)"/>
<path d="M38.0 -2.0 L48.0 -2.0 L52.0 8.0 L63.0 15.0 L72.0 22.0 L84.0 29.0 L96.0 38.0 L100.0 48.0 L92.0 56.0 L84.0 60.0 L60.0 56.0 L57.0 46.0 L55.0 38.0 L52.0 29.0 L46.0 18.0 L42.0 8.0 Z" fill="rgb(93,93,93)" filter="url(#bl2)"/>
<ellipse cx="104.5" cy="35.5" rx="3" ry="3" fill="rgb(89,89,89)" filter="url(#bl1)"/>
<path d="M49.0 17.0 L56.0 16.0 L63.0 19.0 L66.0 25.0 L71.0 29.0 L78.0 34.0 L84.4 38.0 L92.0 48.0 L88.0 56.0 L70.0 54.0 L63.0 48.0 L59.4 38.0 L55.6 29.0 L51.0 24.0 Z" fill="rgb(120,120,120)" filter="url(#bl2)"/>
<ellipse cx="55" cy="20" rx="5" ry="3.5" fill="rgb(128,128,128)" filter="url(#bl1)" transform="rotate(20 55 20)"/>
<path d="M63.0 38.0 L70.0 38.5 L76.7 40.0 L84.0 46.0 L86.0 52.0 L84.4 58.5 L76.7 58.5 L69.0 53.0 L64.0 46.0 Z" fill="rgb(150,150,150)" filter="url(#bl1)"/>
<ellipse cx="75" cy="48" rx="5.5" ry="4.5" fill="rgb(161,161,161)" filter="url(#bl1)"/>
<path d="M49.0 84.0 L85.0 84.0 L83.0 92.0 L70.0 95.5 L52.0 92.0 Z" fill="rgb(85,85,85)" filter="url(#bl2)"/>
<ellipse cx="72.3" cy="90.7" rx="3" ry="2" fill="rgb(120,120,120)" filter="url(#bl0)"/>
<path d="M71.0 97.0 L66.0 108.0 L60.0 126.0" fill="none" stroke="rgb(88,88,88)" stroke-width="10.5" stroke-linecap="round" stroke-linejoin="round" filter="url(#bl2)"/>
<path d="M69.0 102.0 L65.0 110.0 L62.0 119.0" fill="none" stroke="rgb(115,115,115)" stroke-width="4.5" stroke-linecap="round" stroke-linejoin="round" filter="url(#bl1)"/>
<path d="M67.0 106.0 L64.0 114.0" fill="none" stroke="rgb(138,138,138)" stroke-width="2.6" stroke-linecap="round" stroke-linejoin="round" filter="url(#bl0)"/>
<path d="M85.0 100.0 L89.0 112.0" fill="none" stroke="rgb(71,71,71)" stroke-width="4" stroke-linecap="round" stroke-linejoin="round" filter="url(#bl2)"/></g></g>
<circle cx="69.5" cy="70.8" r="15.8" fill="#7b7b7b"/><path d="M60 66 Q62 60.5 69 60.6 Q77 60.5 79.5 67 Q81.5 74 77.5 79 Q71 83.5 64.5 80 Q58.5 75 60 66Z" fill="#a9a9a9"/>
</g><rect x="0.9" y="0.9" width="128.2" height="128.6" fill="none" stroke="#35b5c6" stroke-width="1.8"/></g>
<g transform="translate(533,66)">
<g clip-path="url(#clipmap)"><g filter="url(#jet)"><g filter="url(#bl0)"><rect x="-5" y="-5" width="140" height="140" fill="rgb(25,25,25)"/>
<ellipse cx="14" cy="60" rx="10" ry="16" fill="rgb(22,22,22)" filter="url(#bl4)"/>
<ellipse cx="100" cy="22" rx="12" ry="10" fill="rgb(22,22,22)" filter="url(#bl4)"/>
<ellipse cx="40" cy="10" rx="10" ry="6" fill="rgb(22,22,22)" filter="url(#bl3)"/>
<path d="M56.0 0.0 L82.0 0.0 L76.0 28.0 L84.0 46.0 L62.0 62.0 L54.0 92.0 L30.0 94.0 L20.0 80.0 L26.0 50.0 L44.0 36.0 L56.0 24.0 Z" fill="rgb(43,43,43)" filter="url(#bl4)"/>
<path d="M30.0 38.0 L56.0 40.0 L58.0 60.0 L50.0 86.0 L32.0 88.0 L24.0 66.0 Z" fill="rgb(51,51,51)" filter="url(#bl4)"/>
<ellipse cx="30" cy="16" rx="16" ry="9" fill="rgb(37,37,37)" filter="url(#bl3)" transform="rotate(-15 30 16)"/>
<ellipse cx="92" cy="14" rx="7" ry="5" fill="rgb(32,32,32)" filter="url(#bl3)"/>
<ellipse cx="102" cy="30" rx="5" ry="4" fill="rgb(32,32,32)" filter="url(#bl3)"/>
<path d="M68.0 0.0 L66.0 14.0 L62.0 30.0 L58.0 50.0" fill="none" stroke="rgb(62,62,62)" stroke-width="10" stroke-linecap="round" stroke-linejoin="round" filter="url(#bl3)"/>
<path d="M77.0 0.0 L71.0 20.0" fill="none" stroke="rgb(60,60,60)" stroke-width="6" stroke-linecap="round" stroke-linejoin="round" filter="url(#bl2)"/>
<path d="M52.0 58.0 L34.0 66.0 L22.0 84.0" fill="none" stroke="rgb(51,51,51)" stroke-width="7" stroke-linecap="round" stroke-linejoin="round" filter="url(#bl3)"/>
<path d="M54.0 46.0 L40.0 28.0 L30.0 18.0" fill="none" stroke="rgb(51,51,51)" stroke-width="7" stroke-linecap="round" stroke-linejoin="round" filter="url(#bl3)"/>
<path d="M50.0 52.0 L28.0 46.0 L8.0 40.0" fill="none" stroke="rgb(38,38,38)" stroke-width="6" stroke-linecap="round" stroke-linejoin="round" filter="url(#bl3)"/>
<path d="M66.0 42.0 L92.0 45.0 L110.0 46.0" fill="none" stroke="rgb(60,60,60)" stroke-width="6" stroke-linecap="round" stroke-linejoin="round" filter="url(#bl2)"/>
<path d="M72.0 36.0 L92.0 20.0" fill="none" stroke="rgb(38,38,38)" stroke-width="5" stroke-linecap="round" stroke-linejoin="round" filter="url(#bl3)"/>
<path d="M68.0 0.0 L66.0 14.0 L63.0 28.0" fill="none" stroke="rgb(76,76,76)" stroke-width="4" stroke-linecap="round" stroke-linejoin="round" filter="url(#bl2)"/>
<path d="M62.0 36.0 L57.0 48.0" fill="none" stroke="rgb(76,76,76)" stroke-width="4" stroke-linecap="round" stroke-linejoin="round" filter="url(#bl2)"/>
<ellipse cx="63" cy="33.8" rx="5" ry="6" fill="rgb(74,74,74)" filter="url(#bl2)"/>
<ellipse cx="63" cy="33.8" rx="2.6" ry="3" fill="rgb(96,96,96)" filter="url(#bl1)"/>
<ellipse cx="56" cy="53" rx="12" ry="7" fill="rgb(74,74,74)" filter="url(#bl2)"/>
<ellipse cx="55.5" cy="53.5" rx="7.5" ry="4.5" fill="rgb(105,105,105)" filter="url(#bl1)"/>
<ellipse cx="55.3" cy="54" rx="4" ry="2.2" fill="rgb(143,143,143)" filter="url(#bl0)"/>
<path d="M78.0 45.6 L100.0 45.6" fill="none" stroke="rgb(84,84,84)" stroke-width="2.6" stroke-linecap="round" stroke-linejoin="round" filter="url(#bl1)"/>
<ellipse cx="44.2" cy="89.6" rx="8" ry="7" fill="rgb(71,71,71)" filter="url(#bl2)"/>
<ellipse cx="44.2" cy="89.6" rx="4.6" ry="4" fill="rgb(102,102,102)" filter="url(#bl1)"/>
<ellipse cx="44" cy="90" rx="2.4" ry="2" fill="rgb(128,128,128)" filter="url(#bl0)"/></g></g>
<path d="M113.5 -2 L115 10 L118.4 13.3 L124.5 18.8 L125 25.4 L121.7 31 L118.4 36.5 L115 42 L111.7 45.8 L100.7 47.1 L96.2 48.7 L83 49.3 L80.8 52.4 L76.3 54.2 L73 58.6 L76 65 L82 77 L81 85 L72 92 L63 95.4 L56.4 95.6 L49.8 97.3 L-2 97.3 L-2 132 L132 132 L132 -2 Z" fill="#020204"/>
<path d="M49 65 L45 68 L45.3 80.7 L49.5 82 Z" fill="#020204"/>
<path d="M49.8 60.8 L58.6 58.6 L69.7 58.6 L74.1 60.8 L79.6 70.8 L83 80.7 L78.5 88.5 L68.6 92.9 L63 95 L56.4 89.6 L52 83 L47.6 79.6 L47.1 69.7 Z" fill="#8a8a8a"/>
<path d="M52 63 L72 60.8 L78.5 70.8 L81.9 80.7 L76.3 86.3 L67.5 87.4 L58.6 83 L52 81.9 L48.7 71.9 Z" fill="#b1b1b1"/>
</g><rect x="0.9" y="0.9" width="128.2" height="128.6" fill="none" stroke="#35b5c6" stroke-width="1.8"/></g>
<defs>
<filter id="oct1" filterUnits="userSpaceOnUse" x="0" y="0" width="160" height="107" color-interpolation-filters="sRGB">
<feTurbulence type="fractalNoise" baseFrequency="0.33" numOctaves="2" seed="3" result="n"/>
<feColorMatrix in="n" type="matrix" values="1 0 0 0 0  1 0 0 0 0  1 0 0 0 0  0 0 0 0 1" result="n1"/>
<feGaussianBlur in="n1" stdDeviation="0.5" result="nm"/>
<feComponentTransfer in="nm" result="ns"><feFuncR type="gamma" amplitude="1.7" exponent="3" offset="0"/><feFuncG type="gamma" amplitude="1.7" exponent="3" offset="0"/><feFuncB type="gamma" amplitude="1.7" exponent="3" offset="0"/></feComponentTransfer>
<feGaussianBlur in="SourceGraphic" stdDeviation="0.9" result="sb"/>
<feComposite in="sb" in2="nm" operator="arithmetic" k1="0.48" k2="0.76" k3="0" k4="0" result="c1"/>
<feComposite in="sb" in2="ns" operator="arithmetic" k1="-0.31" k2="0" k3="0.31" k4="0.025" result="c2"/>
<feComposite in="c1" in2="c2" operator="arithmetic" k1="0" k2="1" k3="1" k4="0" result="c"/>
<feComponentTransfer in="c"><feFuncR type="table" tableValues="0.012 0.014 0.016 0.018 0.020 0.022 0.024 0.026 0.028 0.030 0.032 0.034 0.037 0.039 0.042 0.046 0.050 0.054 0.059 0.063 0.067 0.071 0.075 0.079 0.083 0.088 0.092 0.096 0.100 0.104 0.107 0.110 0.113 0.116 0.119 0.122 0.125 0.127 0.128 0.129 0.130 0.131 0.132 0.135 0.144 0.152 0.160 0.168 0.177 0.185 0.201 0.221 0.242 0.263 0.283 0.304 0.324 0.345 0.391 0.438 0.484 0.530 0.576 0.622 0.669 0.715 0.761 0.797 0.821 0.846 0.871 0.896 0.921 0.945 0.970 0.973 0.973 0.973 0.973 0.973 0.973 0.973 0.971 0.966 0.962 0.957 0.952 0.948 0.943 0.944 0.949 0.954 0.958 0.963 0.968 0.973"/><feFuncG type="table" tableValues="0.016 0.019 0.023 0.026 0.029 0.033 0.037 0.041 0.046 0.051 0.055 0.060 0.065 0.069 0.078 0.088 0.098 0.109 0.119 0.129 0.140 0.150 0.164 0.177 0.191 0.204 0.217 0.231 0.244 0.263 0.288 0.313 0.338 0.362 0.387 0.412 0.437 0.471 0.506 0.542 0.577 0.613 0.648 0.677 0.689 0.701 0.713 0.725 0.736 0.748 0.757 0.763 0.769 0.775 0.781 0.788 0.794 0.800 0.808 0.817 0.825 0.833 0.841 0.850 0.858 0.866 0.874 0.880 0.885 0.889 0.893 0.897 0.901 0.905 0.909 0.876 0.839 0.802 0.765 0.728 0.691 0.653 0.609 0.548 0.486 0.425 0.364 0.302 0.241 0.290 0.399 0.507 0.616 0.724 0.833 0.941"/><feFuncB type="table" tableValues="0.059 0.071 0.082 0.094 0.106 0.117 0.129 0.140 0.152 0.163 0.174 0.186 0.197 0.208 0.225 0.245 0.265 0.284 0.304 0.324 0.343 0.363 0.386 0.408 0.431 0.454 0.477 0.499 0.522 0.546 0.570 0.595 0.620 0.645 0.670 0.694 0.719 0.726 0.731 0.735 0.740 0.745 0.749 0.739 0.682 0.626 0.569 0.512 0.456 0.399 0.364 0.343 0.323 0.302 0.282 0.261 0.240 0.220 0.216 0.213 0.210 0.206 0.203 0.200 0.196 0.193 0.190 0.186 0.182 0.178 0.174 0.170 0.166 0.161 0.157 0.153 0.149 0.145 0.141 0.137 0.133 0.128 0.124 0.119 0.115 0.110 0.105 0.100 0.096 0.177 0.304 0.432 0.559 0.686 0.814 0.941"/><feFuncA type="linear" slope="0" intercept="1"/></feComponentTransfer></filter>
<filter id="oct2" filterUnits="userSpaceOnUse" x="0" y="0" width="160" height="107" color-interpolation-filters="sRGB">
<feTurbulence type="fractalNoise" baseFrequency="0.33" numOctaves="2" seed="11" result="n"/>
<feColorMatrix in="n" type="matrix" values="1 0 0 0 0  1 0 0 0 0  1 0 0 0 0  0 0 0 0 1" result="n1"/>
<feGaussianBlur in="n1" stdDeviation="0.5" result="nm"/>
<feComponentTransfer in="nm" result="ns"><feFuncR type="gamma" amplitude="1.7" exponent="3" offset="0"/><feFuncG type="gamma" amplitude="1.7" exponent="3" offset="0"/><feFuncB type="gamma" amplitude="1.7" exponent="3" offset="0"/></feComponentTransfer>
<feGaussianBlur in="SourceGraphic" stdDeviation="0.9" result="sb"/>
<feComposite in="sb" in2="nm" operator="arithmetic" k1="0.48" k2="0.76" k3="0" k4="0" result="c1"/>
<feComposite in="sb" in2="ns" operator="arithmetic" k1="-0.31" k2="0" k3="0.31" k4="0.025" result="c2"/>
<feComposite in="c1" in2="c2" operator="arithmetic" k1="0" k2="1" k3="1" k4="0" result="c"/>
<feComponentTransfer in="c"><feFuncR type="table" tableValues="0.012 0.014 0.016 0.018 0.020 0.022 0.024 0.026 0.028 0.030 0.032 0.034 0.037 0.039 0.042 0.046 0.050 0.054 0.059 0.063 0.067 0.071 0.075 0.079 0.083 0.088 0.092 0.096 0.100 0.104 0.107 0.110 0.113 0.116 0.119 0.122 0.125 0.127 0.128 0.129 0.130 0.131 0.132 0.135 0.144 0.152 0.160 0.168 0.177 0.185 0.201 0.221 0.242 0.263 0.283 0.304 0.324 0.345 0.391 0.438 0.484 0.530 0.576 0.622 0.669 0.715 0.761 0.797 0.821 0.846 0.871 0.896 0.921 0.945 0.970 0.973 0.973 0.973 0.973 0.973 0.973 0.973 0.971 0.966 0.962 0.957 0.952 0.948 0.943 0.944 0.949 0.954 0.958 0.963 0.968 0.973"/><feFuncG type="table" tableValues="0.016 0.019 0.023 0.026 0.029 0.033 0.037 0.041 0.046 0.051 0.055 0.060 0.065 0.069 0.078 0.088 0.098 0.109 0.119 0.129 0.140 0.150 0.164 0.177 0.191 0.204 0.217 0.231 0.244 0.263 0.288 0.313 0.338 0.362 0.387 0.412 0.437 0.471 0.506 0.542 0.577 0.613 0.648 0.677 0.689 0.701 0.713 0.725 0.736 0.748 0.757 0.763 0.769 0.775 0.781 0.788 0.794 0.800 0.808 0.817 0.825 0.833 0.841 0.850 0.858 0.866 0.874 0.880 0.885 0.889 0.893 0.897 0.901 0.905 0.909 0.876 0.839 0.802 0.765 0.728 0.691 0.653 0.609 0.548 0.486 0.425 0.364 0.302 0.241 0.290 0.399 0.507 0.616 0.724 0.833 0.941"/><feFuncB type="table" tableValues="0.059 0.071 0.082 0.094 0.106 0.117 0.129 0.140 0.152 0.163 0.174 0.186 0.197 0.208 0.225 0.245 0.265 0.284 0.304 0.324 0.343 0.363 0.386 0.408 0.431 0.454 0.477 0.499 0.522 0.546 0.570 0.595 0.620 0.645 0.670 0.694 0.719 0.726 0.731 0.735 0.740 0.745 0.749 0.739 0.682 0.626 0.569 0.512 0.456 0.399 0.364 0.343 0.323 0.302 0.282 0.261 0.240 0.220 0.216 0.213 0.210 0.206 0.203 0.200 0.196 0.193 0.190 0.186 0.182 0.178 0.174 0.170 0.166 0.161 0.157 0.153 0.149 0.145 0.141 0.137 0.133 0.128 0.124 0.119 0.115 0.110 0.105 0.100 0.096 0.177 0.304 0.432 0.559 0.686 0.814 0.941"/><feFuncA type="linear" slope="0" intercept="1"/></feComponentTransfer></filter>
<filter id="oct3" filterUnits="userSpaceOnUse" x="0" y="0" width="160" height="107" color-interpolation-filters="sRGB">
<feTurbulence type="fractalNoise" baseFrequency="0.33" numOctaves="2" seed="23" result="n"/>
<feColorMatrix in="n" type="matrix" values="1 0 0 0 0  1 0 0 0 0  1 0 0 0 0  0 0 0 0 1" result="n1"/>
<feGaussianBlur in="n1" stdDeviation="0.5" result="nm"/>
<feComponentTransfer in="nm" result="ns"><feFuncR type="gamma" amplitude="1.7" exponent="3" offset="0"/><feFuncG type="gamma" amplitude="1.7" exponent="3" offset="0"/><feFuncB type="gamma" amplitude="1.7" exponent="3" offset="0"/></feComponentTransfer>
<feGaussianBlur in="SourceGraphic" stdDeviation="0.6" result="sb"/>
<feComposite in="sb" in2="nm" operator="arithmetic" k1="0.48" k2="0.76" k3="0" k4="0" result="c1"/>
<feComposite in="sb" in2="ns" operator="arithmetic" k1="-0.31" k2="0" k3="0.31" k4="0.025" result="c2"/>
<feComposite in="c1" in2="c2" operator="arithmetic" k1="0" k2="1" k3="1" k4="0" result="c"/>
<feComponentTransfer in="c"><feFuncR type="table" tableValues="0.012 0.014 0.016 0.018 0.020 0.022 0.024 0.026 0.028 0.030 0.032 0.034 0.037 0.039 0.042 0.046 0.050 0.054 0.059 0.063 0.067 0.071 0.075 0.079 0.083 0.088 0.092 0.096 0.100 0.104 0.107 0.110 0.113 0.116 0.119 0.122 0.125 0.127 0.128 0.129 0.130 0.131 0.132 0.135 0.144 0.152 0.160 0.168 0.177 0.185 0.201 0.221 0.242 0.263 0.283 0.304 0.324 0.345 0.391 0.438 0.484 0.530 0.576 0.622 0.669 0.715 0.761 0.797 0.821 0.846 0.871 0.896 0.921 0.945 0.970 0.973 0.973 0.973 0.973 0.973 0.973 0.973 0.971 0.966 0.962 0.957 0.952 0.948 0.943 0.944 0.949 0.954 0.958 0.963 0.968 0.973"/><feFuncG type="table" tableValues="0.016 0.019 0.023 0.026 0.029 0.033 0.037 0.041 0.046 0.051 0.055 0.060 0.065 0.069 0.078 0.088 0.098 0.109 0.119 0.129 0.140 0.150 0.164 0.177 0.191 0.204 0.217 0.231 0.244 0.263 0.288 0.313 0.338 0.362 0.387 0.412 0.437 0.471 0.506 0.542 0.577 0.613 0.648 0.677 0.689 0.701 0.713 0.725 0.736 0.748 0.757 0.763 0.769 0.775 0.781 0.788 0.794 0.800 0.808 0.817 0.825 0.833 0.841 0.850 0.858 0.866 0.874 0.880 0.885 0.889 0.893 0.897 0.901 0.905 0.909 0.876 0.839 0.802 0.765 0.728 0.691 0.653 0.609 0.548 0.486 0.425 0.364 0.302 0.241 0.290 0.399 0.507 0.616 0.724 0.833 0.941"/><feFuncB type="table" tableValues="0.059 0.071 0.082 0.094 0.106 0.117 0.129 0.140 0.152 0.163 0.174 0.186 0.197 0.208 0.225 0.245 0.265 0.284 0.304 0.324 0.343 0.363 0.386 0.408 0.431 0.454 0.477 0.499 0.522 0.546 0.570 0.595 0.620 0.645 0.670 0.694 0.719 0.726 0.731 0.735 0.740 0.745 0.749 0.739 0.682 0.626 0.569 0.512 0.456 0.399 0.364 0.343 0.323 0.302 0.282 0.261 0.240 0.220 0.216 0.213 0.210 0.206 0.203 0.200 0.196 0.193 0.190 0.186 0.182 0.178 0.174 0.170 0.166 0.161 0.157 0.153 0.149 0.145 0.141 0.137 0.133 0.128 0.124 0.119 0.115 0.110 0.105 0.100 0.096 0.177 0.304 0.432 0.559 0.686 0.814 0.941"/><feFuncA type="linear" slope="0" intercept="1"/></feComponentTransfer></filter>
<filter id="oct4" filterUnits="userSpaceOnUse" x="0" y="0" width="160" height="107" color-interpolation-filters="sRGB">
<feTurbulence type="fractalNoise" baseFrequency="0.33" numOctaves="2" seed="31" result="n"/>
<feColorMatrix in="n" type="matrix" values="1 0 0 0 0  1 0 0 0 0  1 0 0 0 0  0 0 0 0 1" result="n1"/>
<feGaussianBlur in="n1" stdDeviation="0.5" result="nm"/>
<feComponentTransfer in="nm" result="ns"><feFuncR type="gamma" amplitude="1.7" exponent="3" offset="0"/><feFuncG type="gamma" amplitude="1.7" exponent="3" offset="0"/><feFuncB type="gamma" amplitude="1.7" exponent="3" offset="0"/></feComponentTransfer>
<feGaussianBlur in="SourceGraphic" stdDeviation="0.9" result="sb"/>
<feComposite in="sb" in2="nm" operator="arithmetic" k1="0.48" k2="0.76" k3="0" k4="0" result="c1"/>
<feComposite in="sb" in2="ns" operator="arithmetic" k1="-0.31" k2="0" k3="0.31" k4="0.03" result="c2"/>
<feComposite in="c1" in2="c2" operator="arithmetic" k1="0" k2="1" k3="1" k4="0" result="c"/>
<feComponentTransfer in="c"><feFuncR type="table" tableValues="0.012 0.014 0.016 0.018 0.020 0.022 0.024 0.026 0.028 0.030 0.032 0.034 0.037 0.039 0.042 0.046 0.050 0.054 0.059 0.063 0.067 0.071 0.075 0.079 0.083 0.088 0.092 0.096 0.100 0.104 0.107 0.110 0.113 0.116 0.119 0.122 0.125 0.127 0.128 0.129 0.130 0.131 0.132 0.135 0.144 0.152 0.160 0.168 0.177 0.185 0.201 0.221 0.242 0.263 0.283 0.304 0.324 0.345 0.391 0.438 0.484 0.530 0.576 0.622 0.669 0.715 0.761 0.797 0.821 0.846 0.871 0.896 0.921 0.945 0.970 0.973 0.973 0.973 0.973 0.973 0.973 0.973 0.971 0.966 0.962 0.957 0.952 0.948 0.943 0.944 0.949 0.954 0.958 0.963 0.968 0.973"/><feFuncG type="table" tableValues="0.016 0.019 0.023 0.026 0.029 0.033 0.037 0.041 0.046 0.051 0.055 0.060 0.065 0.069 0.078 0.088 0.098 0.109 0.119 0.129 0.140 0.150 0.164 0.177 0.191 0.204 0.217 0.231 0.244 0.263 0.288 0.313 0.338 0.362 0.387 0.412 0.437 0.471 0.506 0.542 0.577 0.613 0.648 0.677 0.689 0.701 0.713 0.725 0.736 0.748 0.757 0.763 0.769 0.775 0.781 0.788 0.794 0.800 0.808 0.817 0.825 0.833 0.841 0.850 0.858 0.866 0.874 0.880 0.885 0.889 0.893 0.897 0.901 0.905 0.909 0.876 0.839 0.802 0.765 0.728 0.691 0.653 0.609 0.548 0.486 0.425 0.364 0.302 0.241 0.290 0.399 0.507 0.616 0.724 0.833 0.941"/><feFuncB type="table" tableValues="0.059 0.071 0.082 0.094 0.106 0.117 0.129 0.140 0.152 0.163 0.174 0.186 0.197 0.208 0.225 0.245 0.265 0.284 0.304 0.324 0.343 0.363 0.386 0.408 0.431 0.454 0.477 0.499 0.522 0.546 0.570 0.595 0.620 0.645 0.670 0.694 0.719 0.726 0.731 0.735 0.740 0.745 0.749 0.739 0.682 0.626 0.569 0.512 0.456 0.399 0.364 0.343 0.323 0.302 0.282 0.261 0.240 0.220 0.216 0.213 0.210 0.206 0.203 0.200 0.196 0.193 0.190 0.186 0.182 0.178 0.174 0.170 0.166 0.161 0.157 0.153 0.149 0.145 0.141 0.137 0.133 0.128 0.124 0.119 0.115 0.110 0.105 0.100 0.096 0.177 0.304 0.432 0.559 0.686 0.814 0.941"/><feFuncA type="linear" slope="0" intercept="1"/></feComponentTransfer></filter>
<filter id="oct5" filterUnits="userSpaceOnUse" x="0" y="0" width="160" height="107" color-interpolation-filters="sRGB">
<feTurbulence type="fractalNoise" baseFrequency="0.33" numOctaves="2" seed="47" result="n"/>
<feColorMatrix in="n" type="matrix" values="1 0 0 0 0  1 0 0 0 0  1 0 0 0 0  0 0 0 0 1" result="n1"/>
<feGaussianBlur in="n1" stdDeviation="0.5" result="nm"/>
<feComponentTransfer in="nm" result="ns"><feFuncR type="gamma" amplitude="1.7" exponent="3" offset="0"/><feFuncG type="gamma" amplitude="1.7" exponent="3" offset="0"/><feFuncB type="gamma" amplitude="1.7" exponent="3" offset="0"/></feComponentTransfer>
<feGaussianBlur in="SourceGraphic" stdDeviation="0.9" result="sb"/>
<feComposite in="sb" in2="nm" operator="arithmetic" k1="0.48" k2="0.76" k3="0" k4="0" result="c1"/>
<feComposite in="sb" in2="ns" operator="arithmetic" k1="-0.31" k2="0" k3="0.31" k4="0.03" result="c2"/>
<feComposite in="c1" in2="c2" operator="arithmetic" k1="0" k2="1" k3="1" k4="0" result="c"/>
<feComponentTransfer in="c"><feFuncR type="table" tableValues="0.012 0.014 0.016 0.018 0.020 0.022 0.024 0.026 0.028 0.030 0.032 0.034 0.037 0.039 0.042 0.046 0.050 0.054 0.059 0.063 0.067 0.071 0.075 0.079 0.083 0.088 0.092 0.096 0.100 0.104 0.107 0.110 0.113 0.116 0.119 0.122 0.125 0.127 0.128 0.129 0.130 0.131 0.132 0.135 0.144 0.152 0.160 0.168 0.177 0.185 0.201 0.221 0.242 0.263 0.283 0.304 0.324 0.345 0.391 0.438 0.484 0.530 0.576 0.622 0.669 0.715 0.761 0.797 0.821 0.846 0.871 0.896 0.921 0.945 0.970 0.973 0.973 0.973 0.973 0.973 0.973 0.973 0.971 0.966 0.962 0.957 0.952 0.948 0.943 0.944 0.949 0.954 0.958 0.963 0.968 0.973"/><feFuncG type="table" tableValues="0.016 0.019 0.023 0.026 0.029 0.033 0.037 0.041 0.046 0.051 0.055 0.060 0.065 0.069 0.078 0.088 0.098 0.109 0.119 0.129 0.140 0.150 0.164 0.177 0.191 0.204 0.217 0.231 0.244 0.263 0.288 0.313 0.338 0.362 0.387 0.412 0.437 0.471 0.506 0.542 0.577 0.613 0.648 0.677 0.689 0.701 0.713 0.725 0.736 0.748 0.757 0.763 0.769 0.775 0.781 0.788 0.794 0.800 0.808 0.817 0.825 0.833 0.841 0.850 0.858 0.866 0.874 0.880 0.885 0.889 0.893 0.897 0.901 0.905 0.909 0.876 0.839 0.802 0.765 0.728 0.691 0.653 0.609 0.548 0.486 0.425 0.364 0.302 0.241 0.290 0.399 0.507 0.616 0.724 0.833 0.941"/><feFuncB type="table" tableValues="0.059 0.071 0.082 0.094 0.106 0.117 0.129 0.140 0.152 0.163 0.174 0.186 0.197 0.208 0.225 0.245 0.265 0.284 0.304 0.324 0.343 0.363 0.386 0.408 0.431 0.454 0.477 0.499 0.522 0.546 0.570 0.595 0.620 0.645 0.670 0.694 0.719 0.726 0.731 0.735 0.740 0.745 0.749 0.739 0.682 0.626 0.569 0.512 0.456 0.399 0.364 0.343 0.323 0.302 0.282 0.261 0.240 0.220 0.216 0.213 0.210 0.206 0.203 0.200 0.196 0.193 0.190 0.186 0.182 0.178 0.174 0.170 0.166 0.161 0.157 0.153 0.149 0.145 0.141 0.137 0.133 0.128 0.124 0.119 0.115 0.110 0.105 0.100 0.096 0.177 0.304 0.432 0.559 0.686 0.814 0.941"/><feFuncA type="linear" slope="0" intercept="1"/></feComponentTransfer></filter>
<filter id="oct6" filterUnits="userSpaceOnUse" x="0" y="0" width="160" height="107" color-interpolation-filters="sRGB">
<feTurbulence type="fractalNoise" baseFrequency="0.33" numOctaves="2" seed="59" result="n"/>
<feColorMatrix in="n" type="matrix" values="1 0 0 0 0  1 0 0 0 0  1 0 0 0 0  0 0 0 0 1" result="n1"/>
<feGaussianBlur in="n1" stdDeviation="0.5" result="nm"/>
<feComponentTransfer in="nm" result="ns"><feFuncR type="gamma" amplitude="1.7" exponent="3" offset="0"/><feFuncG type="gamma" amplitude="1.7" exponent="3" offset="0"/><feFuncB type="gamma" amplitude="1.7" exponent="3" offset="0"/></feComponentTransfer>
<feGaussianBlur in="SourceGraphic" stdDeviation="0.9" result="sb"/>
<feComposite in="sb" in2="nm" operator="arithmetic" k1="0.48" k2="0.76" k3="0" k4="0" result="c1"/>
<feComposite in="sb" in2="ns" operator="arithmetic" k1="-0.18" k2="0" k3="0.18" k4="0.02" result="c2"/>
<feComposite in="c1" in2="c2" operator="arithmetic" k1="0" k2="1" k3="1" k4="0" result="c"/>
<feComponentTransfer in="c"><feFuncR type="table" tableValues="0.012 0.014 0.016 0.018 0.020 0.022 0.024 0.026 0.028 0.030 0.032 0.034 0.037 0.039 0.042 0.046 0.050 0.054 0.059 0.063 0.067 0.071 0.075 0.079 0.083 0.088 0.092 0.096 0.100 0.104 0.107 0.110 0.113 0.116 0.119 0.122 0.125 0.127 0.128 0.129 0.130 0.131 0.132 0.135 0.144 0.152 0.160 0.168 0.177 0.185 0.201 0.221 0.242 0.263 0.283 0.304 0.324 0.345 0.391 0.438 0.484 0.530 0.576 0.622 0.669 0.715 0.761 0.797 0.821 0.846 0.871 0.896 0.921 0.945 0.970 0.973 0.973 0.973 0.973 0.973 0.973 0.973 0.971 0.966 0.962 0.957 0.952 0.948 0.943 0.944 0.949 0.954 0.958 0.963 0.968 0.973"/><feFuncG type="table" tableValues="0.016 0.019 0.023 0.026 0.029 0.033 0.037 0.041 0.046 0.051 0.055 0.060 0.065 0.069 0.078 0.088 0.098 0.109 0.119 0.129 0.140 0.150 0.164 0.177 0.191 0.204 0.217 0.231 0.244 0.263 0.288 0.313 0.338 0.362 0.387 0.412 0.437 0.471 0.506 0.542 0.577 0.613 0.648 0.677 0.689 0.701 0.713 0.725 0.736 0.748 0.757 0.763 0.769 0.775 0.781 0.788 0.794 0.800 0.808 0.817 0.825 0.833 0.841 0.850 0.858 0.866 0.874 0.880 0.885 0.889 0.893 0.897 0.901 0.905 0.909 0.876 0.839 0.802 0.765 0.728 0.691 0.653 0.609 0.548 0.486 0.425 0.364 0.302 0.241 0.290 0.399 0.507 0.616 0.724 0.833 0.941"/><feFuncB type="table" tableValues="0.059 0.071 0.082 0.094 0.106 0.117 0.129 0.140 0.152 0.163 0.174 0.186 0.197 0.208 0.225 0.245 0.265 0.284 0.304 0.324 0.343 0.363 0.386 0.408 0.431 0.454 0.477 0.499 0.522 0.546 0.570 0.595 0.620 0.645 0.670 0.694 0.719 0.726 0.731 0.735 0.740 0.745 0.749 0.739 0.682 0.626 0.569 0.512 0.456 0.399 0.364 0.343 0.323 0.302 0.282 0.261 0.240 0.220 0.216 0.213 0.210 0.206 0.203 0.200 0.196 0.193 0.190 0.186 0.182 0.178 0.174 0.170 0.166 0.161 0.157 0.153 0.149 0.145 0.141 0.137 0.133 0.128 0.124 0.119 0.115 0.110 0.105 0.100 0.096 0.177 0.304 0.432 0.559 0.686 0.814 0.941"/><feFuncA type="linear" slope="0" intercept="1"/></feComponentTransfer></filter>
<filter id="fun1" filterUnits="userSpaceOnUse" x="0" y="0" width="150" height="150" color-interpolation-filters="sRGB">
<feTurbulence type="fractalNoise" baseFrequency="0.28" numOctaves="3" seed="5" result="n"/>
<feColorMatrix in="n" type="matrix" values="1 0 0 0 0  1 0 0 0 0  1 0 0 0 0  0 0 0 0 1" result="ng"/>
<feComposite in="SourceGraphic" in2="ng" operator="arithmetic" k1="0" k2="1" k3="0.4" k4="-0.2"/>
</filter>
<filter id="fun2" filterUnits="userSpaceOnUse" x="0" y="0" width="150" height="150" color-interpolation-filters="sRGB">
<feTurbulence type="fractalNoise" baseFrequency="0.2" numOctaves="2" seed="9" result="n"/>
<feColorMatrix in="n" type="matrix" values="1 0 0 0 0  1 0 0 0 0  1 0 0 0 0  0 0 0 0 1" result="ng"/>
<feComposite in="SourceGraphic" in2="ng" operator="arithmetic" k1="0" k2="1" k3="0.36" k4="-0.18"/>
</filter>
<filter id="blv" filterUnits="userSpaceOnUse" x="-40" y="-40" width="260" height="260" color-interpolation-filters="sRGB"><feGaussianBlur stdDeviation="0.55"/></filter>
<clipPath id="clipdev"><rect x="3" y="3" width="145" height="143.5"/></clipPath>
<clipPath id="cliptom"><rect x="0" y="0" width="160" height="106.5"/></clipPath>
</defs>
<g transform="translate(30,235)">
<rect x="0" y="0" width="151" height="149.5" fill="#80cbdc"/>
<g clip-path="url(#clipdev)"><g filter="url(#fun1)">
<rect x="0" y="0" width="151" height="150" fill="#e9e9e9"/>
<g transform="translate(-5,-5)">
<ellipse cx="63.716814159292035" cy="135.69321533923303" rx="11" ry="8" fill="#9a9a9a" filter="url(#bl3)" opacity="0.8"/>
<ellipse cx="113.27433628318585" cy="82.59587020648968" rx="6" ry="10" fill="#bbb" filter="url(#bl3)" opacity="0.8"/>
<path d="M50.7 8.3 L63.7 23.6 L75.5 44.8 L82.6 63.7 L85.0 70.8" fill="none" stroke="#7c7c7c" stroke-width="2.3" stroke-linecap="round" stroke-linejoin="round" filter="url(#blv)" opacity="1"/>
<path d="M68.4 8.3 L73.2 28.3 L80.2 49.6 L83.8 66.1" fill="none" stroke="#808080" stroke-width="1.6" stroke-linecap="round" stroke-linejoin="round" filter="url(#blv)" opacity="1"/>
<path d="M94.4 70.8 L103.8 47.2 L118.0 23.6 L126.3 8.3" fill="none" stroke="#888888" stroke-width="1.6" stroke-linecap="round" stroke-linejoin="round" filter="url(#blv)" opacity="1"/>
<path d="M99.1 8.3 L94.4 35.4 L89.7 61.4" fill="none" stroke="#8c8c8c" stroke-width="1.2" stroke-linecap="round" stroke-linejoin="round" filter="url(#blv)" opacity="1"/>
<path d="M86.1 107.4 L82.6 127.4 L73.2 146.3 L68.4 153.4" fill="none" stroke="#7c7c7c" stroke-width="2.4" stroke-linecap="round" stroke-linejoin="round" filter="url(#blv)" opacity="1"/>
<path d="M94.4 106.2 L103.8 125.1 L101.5 153.4" fill="none" stroke="#7e7e7e" stroke-width="1.7" stroke-linecap="round" stroke-linejoin="round" filter="url(#blv)" opacity="1"/>
<path d="M99.1 103.8 L118.0 118.0 L141.6 132.2 L153.4 141.6" fill="none" stroke="#858585" stroke-width="1.6" stroke-linecap="round" stroke-linejoin="round" filter="url(#blv)" opacity="1"/>
<path d="M8.3 30.7 L30.7 28.3 L54.3 30.7 L70.8 42.5" fill="none" stroke="#989898" stroke-width="1.1" stroke-linecap="round" stroke-linejoin="round" filter="url(#blv)" opacity="1"/>
<path d="M113.3 54.3 L132.2 49.6 L153.4 35.4" fill="none" stroke="#989898" stroke-width="1.1" stroke-linecap="round" stroke-linejoin="round" filter="url(#blv)" opacity="1"/>
<path d="M106.2 61.4 L132.2 59.0 L153.4 54.3" fill="none" stroke="#a0a0a0" stroke-width="1" stroke-linecap="round" stroke-linejoin="round" filter="url(#blv)" opacity="1"/>
<path d="M9.4 103.8 L35.4 103.8 L66.1 110.9" fill="none" stroke="#9c9c9c" stroke-width="1" stroke-linecap="round" stroke-linejoin="round" filter="url(#blv)" opacity="1"/>
<path d="M9.4 139.2 L47.2 141.6 L70.8 134.5" fill="none" stroke="#969696" stroke-width="1.2" stroke-linecap="round" stroke-linejoin="round" filter="url(#blv)" opacity="1"/>
<path d="M54.3 30.7 L47.2 14.2 L42.5 8.3" fill="none" stroke="#a0a0a0" stroke-width="0.9" stroke-linecap="round" stroke-linejoin="round" filter="url(#blv)" opacity="1"/>
<path d="M23.6 59.0 L42.5 70.8 L66.1 80.2" fill="none" stroke="#a6a6a6" stroke-width="0.9" stroke-linecap="round" stroke-linejoin="round" filter="url(#blv)" opacity="1"/>
<path d="M122.7 99.1 L141.6 101.5 L153.4 110.9" fill="none" stroke="#a6a6a6" stroke-width="0.9" stroke-linecap="round" stroke-linejoin="round" filter="url(#blv)" opacity="1"/>
<path d="M30.7 28.3 L26.0 47.2 L14.2 70.8 L9.4 80.2" fill="none" stroke="#aaaaaa" stroke-width="0.8" stroke-linecap="round" stroke-linejoin="round" filter="url(#blv)" opacity="1"/>
<path d="M118.0 118.0 L122.7 136.9 L132.2 153.4" fill="none" stroke="#a0a0a0" stroke-width="0.9" stroke-linecap="round" stroke-linejoin="round" filter="url(#blv)" opacity="1"/>
<path d="M141.6 70.8 L151.0 89.7" fill="none" stroke="#aaaaaa" stroke-width="0.8" stroke-linecap="round" stroke-linejoin="round" filter="url(#blv)" opacity="1"/>
<path d="M132.2 8.3 L139.2 28.3 L153.4 47.2" fill="none" stroke="#a6a6a6" stroke-width="0.9" stroke-linecap="round" stroke-linejoin="round" filter="url(#blv)" opacity="1"/>
<path d="M14.2 8.3 L28.3 18.9 L30.7 28.3" fill="none" stroke="#aaaaaa" stroke-width="0.8" stroke-linecap="round" stroke-linejoin="round" filter="url(#blv)" opacity="1"/>
<path d="M35.4 103.8 L28.3 122.7 L14.2 132.2" fill="none" stroke="#aaaaaa" stroke-width="0.8" stroke-linecap="round" stroke-linejoin="round" filter="url(#blv)" opacity="1"/>
</g></g>
<g transform="translate(-5,-5)">
<rect x="72.0" y="111.9" width="7.1" height="9.9" fill="#f3ee8c" opacity="0.85" filter="url(#blv)"/>
<rect x="89.2" y="113.7" width="8.0" height="10.9" fill="#f3ee8c" opacity="0.85" filter="url(#blv)"/>
<rect x="52.9" y="141.6" width="9.9" height="7.1" fill="#f3ee8c" opacity="0.85" filter="url(#blv)"/>
<rect x="106.0" y="89.2" width="7.6" height="3.3" fill="#f3ee8c" opacity="0.85" filter="url(#blv)"/>
<rect x="99.1" y="100.8" width="7.1" height="4.7" fill="#f3ee8c" opacity="0.85" filter="url(#blv)"/>
<rect x="64.4" y="95.3" width="3.3" height="2.8" fill="#f3ee8c" opacity="0.85" filter="url(#blv)"/>
<ellipse cx="85.5" cy="87.1" rx="18.6" ry="19.6" fill="#b6b6b6" opacity="0.85"/>
<ellipse cx="84.5" cy="88.1" rx="7" ry="8" fill="#808080" filter="url(#bl2)" opacity="0.5"/>
<path d="M85.0 70.8 L87.8 80.2 L85.4 90.9 L87.8 107.4" fill="none" stroke="#6a6a6a" stroke-width="1.6" stroke-linecap="round" stroke-linejoin="round" filter="url(#blv)" opacity="1"/>
<path d="M90.9 81.4 L94.4 93.2" fill="none" stroke="#5a5a5a" stroke-width="1.4" stroke-linecap="round" stroke-linejoin="round" filter="url(#blv)" opacity="1"/>
<path d="M71.6 87.3 q0.5 -8 7 -10 q6 -2 10 1 q6 1.5 7.5 8 q0.5 7 -5 10.5 q-7 3 -13.5 -0.5 q-6 -3 -6 -9z" fill="none" stroke="#d43a30" stroke-width="1.7" opacity="0.85" filter="url(#blv)"/>
<path d="M72.1 91.3 q-1.2 -6 2 -10" fill="none" stroke="#9a2a22" stroke-width="2.6" opacity="0.8" filter="url(#blv)"/>
<ellipse cx="85.5" cy="87.1" rx="19" ry="20" fill="none" stroke="#111" stroke-width="1.1"/>
<path d="M85.5 67.1 v5.5 M84.0 80.1 q3 2 1 5 q-2 3 1.5 5 M85.5 103.1 v4.5" stroke="#4cc4d4" stroke-width="1.5" fill="none" opacity="0.9"/>
<rect x="103.3" y="79.1" width="1.9" height="10.8" fill="#111"/>
<circle cx="85.4" cy="86.8" r="43.3" fill="none" stroke="#7c1684" stroke-width="1"/>
</g></g></g>
<g transform="translate(515.7,235.5)">
<rect x="0" y="0" width="149.3" height="149" fill="#80cbdc"/>
<g clip-path="url(#clipdev)"><g filter="url(#fun2)">
<rect x="0" y="0" width="151" height="150" fill="#bebebe"/>
<ellipse cx="135" cy="95" rx="22" ry="32" fill="#cfcfcf" filter="url(#bl4)"/>
<ellipse cx="60" cy="140" rx="60" ry="14" fill="#a4a4a4" filter="url(#bl4)"/>
<g transform="translate(-5.7,-5.5)">
<ellipse cx="16.519174041297937" cy="89.6755162241888" rx="21" ry="33" fill="#f6f6f6" filter="url(#bl4)"/>
<ellipse cx="28.31858407079646" cy="70.79646017699115" rx="16" ry="18" fill="#e6e6e6" filter="url(#bl4)"/>
<ellipse cx="58.99705014749263" cy="18.87905604719764" rx="12" ry="14" fill="#e0e0e0" filter="url(#bl4)"/>
<ellipse cx="103.83480825958702" cy="25.958702064896755" rx="20" ry="16" fill="#d8d8d8" filter="url(#bl4)"/>
<ellipse cx="14.15929203539823" cy="51.91740412979351" rx="8" ry="10" fill="#e4e4e4" filter="url(#bl3)"/>
<ellipse cx="37.75811209439528" cy="110.91445427728614" rx="20" ry="8" fill="#c8c8c8" filter="url(#bl3)"/>
<ellipse cx="63.716814159292035" cy="61.356932153392336" rx="16" ry="14" fill="#7a7a7a" filter="url(#bl4)"/>
<path d="M82.6 8.3 L76.7 35.4 L73.6 68.4" fill="none" stroke="#585858" stroke-width="3.6" stroke-linecap="round" stroke-linejoin="round" filter="url(#bl0)" opacity="1"/>
<path d="M96.8 11.8 L82.6 28.3" fill="none" stroke="#666" stroke-width="2.2" stroke-linecap="round" stroke-linejoin="round" filter="url(#bl0)" opacity="1"/>
<path d="M14.2 21.2 L35.4 42.5 L61.4 68.4" fill="none" stroke="#777" stroke-width="5" stroke-linecap="round" stroke-linejoin="round" filter="url(#bl2)" opacity="1"/>
<path d="M30.7 11.8 L44.8 35.4 L59.0 59.0" fill="none" stroke="#808080" stroke-width="3" stroke-linecap="round" stroke-linejoin="round" filter="url(#bl1)" opacity="1"/>
<path d="M9.4 44.8 L26.0 56.6 L47.2 70.8" fill="none" stroke="#8a8a8a" stroke-width="2" stroke-linecap="round" stroke-linejoin="round" filter="url(#bl1)" opacity="1"/>
<path d="M99.1 53.1 L118.0 55.5 L139.2 50.7" fill="none" stroke="#6e6e6e" stroke-width="9" stroke-linecap="round" stroke-linejoin="round" filter="url(#bl1)" opacity="1"/>
<path d="M47.2 113.3 L61.4 103.8 L68.4 110.9" fill="none" stroke="#777" stroke-width="4" stroke-linecap="round" stroke-linejoin="round" filter="url(#bl2)" opacity="1"/>
<rect x="150.08849557522126" y="0" width="4" height="160" fill="#555"/>
<rect x="0" y="151.03244837758112" width="160" height="4" fill="#555"/>
</g></g>
<g transform="translate(-5.7,-5.5)">
<path d="M8.3 116.8 L56.6 116.8 L56.6 113.3 L63.7 113.3 L70.8 116.8 L81.4 116.8 L81.4 57.8 L89.7 57.8 L89.7 30.7 L97.9 30.7 L97.9 22.4 L106.2 22.4 L152.2 22.4 L152.2 152.2 L8.3 152.2 Z" fill="#d4646e" opacity="0.8"/>
<path d="M99.1 48.4 L110.9 48.4 L110.9 51.9 L132.2 51.9 L132.2 44.8 L139.2 44.8 L139.2 55.5 L125.1 55.5 L125.1 59.0 L103.8 59.0 L103.8 55.5 L99.1 55.5 Z" fill="#6f6f6f" opacity="0.95"/>
<rect x="106.2" y="14.2" width="43.9" height="8.1" fill="#d9d264" opacity="0.9"/>
<rect x="81.4" y="50.7" width="10.1" height="3.4" fill="#d9d264" opacity="0.9"/>
<rect x="89.7" y="38.9" width="3.4" height="7.4" fill="#d9d264" opacity="0.9"/>
<rect x="94.4" y="47.2" width="6.7" height="3.4" fill="#d9d264" opacity="0.9"/>
<rect x="141.6" y="30.7" width="5.1" height="3.4" fill="#d9d264" opacity="0.9"/>
<rect x="118.0" y="35.4" width="3.4" height="5.1" fill="#d9d264" opacity="0.9"/>
<rect x="146.3" y="54.3" width="4.0" height="3.4" fill="#d9d264" opacity="0.9"/>
<rect x="77.9" y="60.2" width="3.4" height="6.7" fill="#d9d264" opacity="0.9"/>
<rect x="89.7" y="30.7" width="8.1" height="3.4" fill="#d9d264" opacity="0.9"/>
<rect x="109.7" y="30.7" width="3.4" height="6.7" fill="#d9d264" opacity="0.9"/>
<rect x="127.4" y="23.6" width="8.4" height="3.4" fill="#d9d264" opacity="0.9"/>
<rect x="97.9" y="38.9" width="3.4" height="3.4" fill="#d9d264" opacity="0.9"/>
<rect x="110.9" y="42.5" width="5.1" height="5.1" fill="#d9d264" opacity="0.9"/>
<rect x="120.4" y="46.0" width="10.1" height="3.4" fill="#d9d264" opacity="0.9"/>
<rect x="133.3" y="42.5" width="3.4" height="3.4" fill="#d9d264" opacity="0.9"/>
<rect x="89.7" y="50.7" width="6.7" height="5.1" fill="#d9d264" opacity="0.9"/>
<rect x="81.4" y="54.3" width="6.7" height="4.0" fill="#d9d264" opacity="0.9"/>
<rect x="128.6" y="55.5" width="8.1" height="3.4" fill="#d9d264" opacity="0.9"/>
<rect x="101.5" y="59.0" width="3.4" height="3.4" fill="#d9d264" opacity="0.9"/>
<rect x="14.2" y="40.1" width="4.7" height="6.7" fill="#d9d264" opacity="0.9"/>
<rect x="24.8" y="44.8" width="5.4" height="3.4" fill="#d9d264" opacity="0.9"/>
<rect x="11.8" y="62.5" width="4.4" height="6.1" fill="#d9d264" opacity="0.9"/>
<rect x="22.4" y="68.4" width="5.1" height="3.4" fill="#d9d264" opacity="0.9"/>
<rect x="49.6" y="75.5" width="5.1" height="8.4" fill="#d9d264" opacity="0.9"/>
<rect x="46.0" y="89.7" width="5.4" height="5.4" fill="#d9d264" opacity="0.9"/>
<rect x="53.1" y="94.4" width="4.4" height="3.4" fill="#d9d264" opacity="0.9"/>
<rect x="50.7" y="103.8" width="4.4" height="4.0" fill="#d9d264" opacity="0.9"/>
<rect x="63.7" y="30.7" width="3.4" height="3.4" fill="#d9d264" opacity="0.9"/>
<rect x="68.4" y="108.6" width="6.7" height="6.1" fill="#d9d264" opacity="0.9"/>
<rect x="90.9" y="72.0" width="5.1" height="5.1" fill="#d9d264" opacity="0.9"/>
<rect x="96.8" y="103.8" width="4.0" height="4.0" fill="#d9d264" opacity="0.9"/>
<path d="M70.8 70.8 L80.2 70.3 L90.9 74.3 L97.9 85.0 L101.5 99.1 L97.9 107.4 L87.3 110.9 L77.9 115.6 L70.8 110.9 L63.7 101.5 L58.5 92.0 L59.0 80.2 L63.7 74.3 Z" fill="#5d5d5d" stroke="#0c0c0c" stroke-width="1.2" stroke-linejoin="round"/>
<path d="M61.8 81.4 L70.8 76.0 L85.0 75.5 L94.4 83.1 L100.3 99.1 L95.6 107.4 L85.0 108.6 L75.5 105.0 L70.8 97.9 L61.8 94.4 Z" fill="none" stroke="#d42a22" stroke-width="1" stroke-linejoin="round"/>
<rect x="78.8" y="76.9" width="2" height="2.2" fill="#45c3d6"/>
<rect x="78.8" y="90.3" width="2" height="2.2" fill="#45c3d6"/>
<rect x="78.8" y="106.4" width="2" height="2.2" fill="#45c3d6"/>
<rect x="78.8" y="113.9" width="2" height="2.2" fill="#45c3d6"/>
<circle cx="79.8" cy="92.5" r="43.2" fill="none" stroke="#8a1890" stroke-width="1"/>
</g></g></g>
<g transform="translate(25,419)"><g clip-path="url(#cliptom)"><g filter="url(#oct1)">
<rect x="0" y="0" width="160" height="107" fill="rgb(0,0,0)"/>
<rect x="0" y="0" width="160" height="50" fill="rgb(8,8,8)"/>
<path d="M0.0 81.6 L2.5 81.9 L5.0 82.2 L7.5 82.5 L10.0 82.8 L12.5 83.0 L15.0 83.3 L17.5 83.6 L20.0 83.9 L22.5 84.4 L25.0 84.9 L27.5 85.5 L30.0 86.0 L32.5 86.5 L35.0 87.0 L37.5 87.8 L40.0 88.5 L42.5 86.6 L45.0 84.6 L47.5 82.7 L50.0 81.8 L52.5 80.9 L55.0 80.1 L57.5 79.2 L60.0 77.8 L62.0 76.6 L62.0 78.3 L60.0 80.0 L57.5 82.1 L55.0 83.5 L52.5 85.0 L50.0 86.4 L47.5 87.9 L45.0 90.4 L42.5 93.0 L40.0 95.5 L37.5 94.8 L35.0 94.0 L32.5 93.5 L30.0 93.0 L27.5 92.5 L25.0 91.9 L22.5 91.4 L20.0 90.9 L17.5 90.6 L15.0 90.3 L12.5 90.0 L10.0 89.8 L7.5 89.5 L5.0 89.2 L2.5 88.9 L0.0 88.6 Z" fill="rgb(56,56,56)"/>
<path d="M92.0 66.9 L94.5 68.1 L97.0 70.7 L99.5 73.9 L102.0 77.0 L104.5 80.2 L107.0 83.3 L109.5 84.1 L112.0 83.4 L114.5 82.7 L117.0 82.0 L119.5 81.3 L122.0 80.5 L124.5 79.8 L127.0 79.2 L129.5 78.6 L132.0 77.9 L134.5 77.3 L137.0 76.7 L139.5 76.1 L142.0 75.4 L144.5 74.8 L147.0 74.2 L149.5 73.7 L152.0 73.1 L154.5 72.6 L157.0 72.0 L159.5 71.5 L160.0 71.4 L160.0 78.4 L159.5 78.5 L157.0 79.0 L154.5 79.6 L152.0 80.1 L149.5 80.7 L147.0 81.2 L144.5 81.8 L142.0 82.4 L139.5 83.1 L137.0 83.7 L134.5 84.3 L132.0 84.9 L129.5 85.6 L127.0 86.2 L124.5 86.8 L122.0 87.5 L119.5 88.3 L117.0 89.0 L114.5 89.7 L112.0 90.4 L109.5 91.1 L107.0 90.0 L104.5 86.1 L102.0 82.2 L99.5 78.3 L97.0 74.4 L94.5 71.0 L92.0 69.0 Z" fill="rgb(56,56,56)"/>
<path d="M0.0 76.1 L2.5 76.4 L5.0 76.7 L7.5 77.0 L10.0 77.2 L12.5 77.5 L15.0 77.8 L17.5 78.1 L20.0 78.4 L22.5 78.9 L25.0 79.4 L27.5 80.0 L30.0 80.5 L32.5 81.0 L35.0 81.5 L37.5 82.3 L40.0 83.0 L42.5 81.6 L45.0 80.1 L47.5 78.6 L50.0 78.2 L52.5 77.8 L55.0 77.4 L57.5 77.0 L60.0 76.0 L62.0 75.2 L62.0 76.6 L60.0 77.8 L57.5 79.2 L55.0 80.1 L52.5 80.9 L50.0 81.8 L47.5 82.7 L45.0 84.6 L42.5 86.6 L40.0 88.5 L37.5 87.8 L35.0 87.0 L32.5 86.5 L30.0 86.0 L27.5 85.5 L25.0 84.9 L22.5 84.4 L20.0 83.9 L17.5 83.6 L15.0 83.3 L12.5 83.0 L10.0 82.8 L7.5 82.5 L5.0 82.2 L2.5 81.9 L0.0 81.6 Z" fill="rgb(97,97,97)"/>
<path d="M92.0 65.2 L94.5 65.9 L97.0 67.9 L99.5 70.4 L102.0 73.0 L104.5 75.5 L107.0 78.1 L109.5 78.6 L112.0 77.9 L114.5 77.2 L117.0 76.5 L119.5 75.8 L122.0 75.0 L124.5 74.3 L127.0 73.7 L129.5 73.1 L132.0 72.4 L134.5 71.8 L137.0 71.2 L139.5 70.6 L142.0 69.9 L144.5 69.3 L147.0 68.7 L149.5 68.2 L152.0 67.6 L154.5 67.1 L157.0 66.5 L159.5 66.0 L160.0 65.9 L160.0 71.4 L159.5 71.5 L157.0 72.0 L154.5 72.6 L152.0 73.1 L149.5 73.7 L147.0 74.2 L144.5 74.8 L142.0 75.4 L139.5 76.1 L137.0 76.7 L134.5 77.3 L132.0 77.9 L129.5 78.6 L127.0 79.2 L124.5 79.8 L122.0 80.5 L119.5 81.3 L117.0 82.0 L114.5 82.7 L112.0 83.4 L109.5 84.1 L107.0 83.3 L104.5 80.2 L102.0 77.0 L99.5 73.9 L97.0 70.7 L94.5 68.1 L92.0 66.9 Z" fill="rgb(97,97,97)"/>
<path d="M0.0 72.1 L2.5 72.4 L5.0 72.7 L7.5 73.0 L10.0 73.2 L12.5 73.5 L15.0 73.8 L17.5 74.1 L20.0 74.4 L22.5 74.9 L25.0 75.4 L27.5 76.0 L30.0 76.5 L32.5 77.0 L35.0 77.5 L37.5 78.3 L40.0 79.0 L42.5 77.9 L45.0 76.8 L47.5 75.6 L50.0 75.5 L52.5 75.5 L55.0 75.4 L57.5 75.4 L60.0 74.7 L62.0 74.2 L62.0 75.2 L60.0 76.0 L57.5 77.0 L55.0 77.4 L52.5 77.8 L50.0 78.2 L47.5 78.6 L45.0 80.1 L42.5 81.6 L40.0 83.0 L37.5 82.3 L35.0 81.5 L32.5 81.0 L30.0 80.5 L27.5 80.0 L25.0 79.4 L22.5 78.9 L20.0 78.4 L17.5 78.1 L15.0 77.8 L12.5 77.5 L10.0 77.2 L7.5 77.0 L5.0 76.7 L2.5 76.4 L0.0 76.1 Z" fill="rgb(135,135,135)"/>
<path d="M92.0 64.0 L94.5 64.2 L97.0 65.8 L99.5 67.9 L102.0 70.0 L104.5 72.1 L107.0 74.2 L109.5 74.6 L112.0 73.9 L114.5 73.2 L117.0 72.5 L119.5 71.8 L122.0 71.0 L124.5 70.3 L127.0 69.7 L129.5 69.1 L132.0 68.4 L134.5 67.8 L137.0 67.2 L139.5 66.6 L142.0 65.9 L144.5 65.3 L147.0 64.7 L149.5 64.2 L152.0 63.6 L154.5 63.1 L157.0 62.5 L159.5 62.0 L160.0 61.9 L160.0 65.9 L159.5 66.0 L157.0 66.5 L154.5 67.1 L152.0 67.6 L149.5 68.2 L147.0 68.7 L144.5 69.3 L142.0 69.9 L139.5 70.6 L137.0 71.2 L134.5 71.8 L132.0 72.4 L129.5 73.1 L127.0 73.7 L124.5 74.3 L122.0 75.0 L119.5 75.8 L117.0 76.5 L114.5 77.2 L112.0 77.9 L109.5 78.6 L107.0 78.1 L104.5 75.5 L102.0 73.0 L99.5 70.4 L97.0 67.9 L94.5 65.9 L92.0 65.2 Z" fill="rgb(135,135,135)"/>
<path d="M0.0 67.1 L2.5 67.4 L5.0 67.7 L7.5 68.0 L10.0 68.2 L12.5 68.5 L15.0 68.8 L17.5 69.1 L20.0 69.4 L22.5 69.9 L25.0 70.4 L27.5 71.0 L30.0 71.5 L32.5 72.0 L35.0 72.5 L37.5 73.3 L40.0 74.0 L42.5 73.3 L45.0 72.6 L47.5 71.9 L50.0 72.2 L52.5 72.6 L55.0 73.0 L57.5 73.4 L60.0 73.2 L62.0 73.0 L62.0 74.2 L60.0 74.7 L57.5 75.4 L55.0 75.4 L52.5 75.5 L50.0 75.5 L47.5 75.6 L45.0 76.8 L42.5 77.9 L40.0 79.0 L37.5 78.3 L35.0 77.5 L32.5 77.0 L30.0 76.5 L27.5 76.0 L25.0 75.4 L22.5 74.9 L20.0 74.4 L17.5 74.1 L15.0 73.8 L12.5 73.5 L10.0 73.2 L7.5 73.0 L5.0 72.7 L2.5 72.4 L0.0 72.1 Z" fill="rgb(168,168,168)"/>
<path d="M92.0 62.5 L94.5 62.2 L97.0 63.2 L99.5 64.8 L102.0 66.3 L104.5 67.9 L107.0 69.4 L109.5 69.6 L112.0 68.9 L114.5 68.2 L117.0 67.5 L119.5 66.8 L122.0 66.0 L124.5 65.3 L127.0 64.7 L129.5 64.1 L132.0 63.4 L134.5 62.8 L137.0 62.2 L139.5 61.6 L142.0 60.9 L144.5 60.3 L147.0 59.7 L149.5 59.2 L152.0 58.6 L154.5 58.1 L157.0 57.5 L159.5 57.0 L160.0 56.9 L160.0 61.9 L159.5 62.0 L157.0 62.5 L154.5 63.1 L152.0 63.6 L149.5 64.2 L147.0 64.7 L144.5 65.3 L142.0 65.9 L139.5 66.6 L137.0 67.2 L134.5 67.8 L132.0 68.4 L129.5 69.1 L127.0 69.7 L124.5 70.3 L122.0 71.0 L119.5 71.8 L117.0 72.5 L114.5 73.2 L112.0 73.9 L109.5 74.6 L107.0 74.2 L104.5 72.1 L102.0 70.0 L99.5 67.9 L97.0 65.8 L94.5 64.2 L92.0 64.0 Z" fill="rgb(168,168,168)"/>
<path d="M0.0 61.6 L2.5 61.9 L5.0 62.2 L7.5 62.5 L10.0 62.8 L12.5 63.0 L15.0 63.3 L17.5 63.6 L20.0 63.9 L22.5 64.4 L25.0 64.9 L27.5 65.5 L30.0 66.0 L32.5 66.5 L35.0 67.0 L37.5 67.8 L40.0 68.5 L42.5 68.3 L45.0 68.0 L47.5 67.8 L50.0 68.6 L52.5 69.5 L55.0 70.3 L57.5 71.2 L60.0 71.4 L62.0 71.6 L62.0 72.8 L60.0 73.0 L57.5 73.2 L55.0 72.8 L52.5 72.3 L50.0 71.9 L47.5 71.5 L45.0 72.2 L42.5 72.9 L40.0 73.5 L37.5 72.8 L35.0 72.0 L32.5 71.5 L30.0 71.0 L27.5 70.5 L25.0 69.9 L22.5 69.4 L20.0 68.9 L17.5 68.6 L15.0 68.3 L12.5 68.0 L10.0 67.8 L7.5 67.5 L5.0 67.2 L2.5 66.9 L0.0 66.6 Z" fill="rgb(145,145,145)"/>
<path d="M92.0 60.9 L94.5 59.9 L97.0 60.4 L99.5 61.3 L102.0 62.3 L104.5 63.2 L107.0 64.2 L109.5 64.1 L112.0 63.4 L114.5 62.7 L117.0 62.0 L119.5 61.3 L122.0 60.5 L124.5 59.8 L127.0 59.2 L129.5 58.6 L132.0 57.9 L134.5 57.3 L137.0 56.7 L139.5 56.1 L142.0 55.4 L144.5 54.8 L147.0 54.2 L149.5 53.7 L152.0 53.1 L154.5 52.6 L157.0 52.0 L159.5 51.5 L160.0 51.4 L160.0 56.4 L159.5 56.5 L157.0 57.0 L154.5 57.6 L152.0 58.1 L149.5 58.7 L147.0 59.2 L144.5 59.8 L142.0 60.4 L139.5 61.1 L137.0 61.7 L134.5 62.3 L132.0 62.9 L129.5 63.6 L127.0 64.2 L124.5 64.8 L122.0 65.5 L119.5 66.3 L117.0 67.0 L114.5 67.7 L112.0 68.4 L109.5 69.1 L107.0 69.0 L104.5 67.5 L102.0 66.0 L99.5 64.5 L97.0 63.0 L94.5 62.0 L92.0 62.4 Z" fill="rgb(145,145,145)"/>
<path d="M0.0 55.1 L2.5 55.4 L5.0 55.7 L7.5 56.0 L10.0 56.2 L12.5 56.5 L15.0 56.8 L17.5 57.1 L20.0 57.4 L22.5 57.9 L25.0 58.4 L27.5 59.0 L30.0 59.5 L32.5 60.0 L35.0 60.5 L37.5 61.3 L40.0 62.0 L42.5 62.4 L45.0 62.7 L47.5 63.0 L50.0 64.3 L52.5 65.7 L55.0 67.1 L57.5 68.5 L60.0 69.3 L62.0 70.0 L62.0 71.6 L60.0 71.4 L57.5 71.2 L55.0 70.3 L52.5 69.5 L50.0 68.6 L47.5 67.8 L45.0 68.0 L42.5 68.3 L40.0 68.5 L37.5 67.8 L35.0 67.0 L32.5 66.5 L30.0 66.0 L27.5 65.5 L25.0 64.9 L22.5 64.4 L20.0 63.9 L17.5 63.6 L15.0 63.3 L12.5 63.0 L10.0 62.8 L7.5 62.5 L5.0 62.2 L2.5 61.9 L0.0 61.6 Z" fill="rgb(158,158,158)"/>
<path d="M92.0 58.9 L94.5 57.3 L97.0 57.0 L99.5 57.2 L102.0 57.5 L104.5 57.7 L107.0 58.0 L109.5 57.6 L112.0 56.9 L114.5 56.2 L117.0 55.5 L119.5 54.8 L122.0 54.0 L124.5 53.3 L127.0 52.7 L129.5 52.1 L132.0 51.4 L134.5 50.8 L137.0 50.2 L139.5 49.6 L142.0 48.9 L144.5 48.3 L147.0 47.7 L149.5 47.2 L152.0 46.6 L154.5 46.1 L157.0 45.5 L159.5 45.0 L160.0 44.9 L160.0 51.4 L159.5 51.5 L157.0 52.0 L154.5 52.6 L152.0 53.1 L149.5 53.7 L147.0 54.2 L144.5 54.8 L142.0 55.4 L139.5 56.1 L137.0 56.7 L134.5 57.3 L132.0 57.9 L129.5 58.6 L127.0 59.2 L124.5 59.8 L122.0 60.5 L119.5 61.3 L117.0 62.0 L114.5 62.7 L112.0 63.4 L109.5 64.1 L107.0 64.2 L104.5 63.2 L102.0 62.3 L99.5 61.3 L97.0 60.4 L94.5 59.9 L92.0 60.9 Z" fill="rgb(158,158,158)"/>
<path d="M0.0 51.6 L2.5 51.9 L5.0 52.2 L7.5 52.5 L10.0 52.8 L12.5 53.0 L15.0 53.3 L17.5 53.6 L20.0 53.9 L22.5 54.4 L25.0 54.9 L27.5 55.5 L30.0 56.0 L32.5 56.5 L35.0 57.0 L37.5 57.8 L40.0 58.5 L42.5 59.2 L45.0 59.8 L47.5 60.4 L50.0 62.0 L52.5 63.7 L55.0 65.4 L57.5 67.1 L60.0 68.2 L62.0 69.1 L62.0 70.0 L60.0 69.3 L57.5 68.5 L55.0 67.1 L52.5 65.7 L50.0 64.3 L47.5 63.0 L45.0 62.7 L42.5 62.4 L40.0 62.0 L37.5 61.3 L35.0 60.5 L32.5 60.0 L30.0 59.5 L27.5 59.0 L25.0 58.4 L22.5 57.9 L20.0 57.4 L17.5 57.1 L15.0 56.8 L12.5 56.5 L10.0 56.2 L7.5 56.0 L5.0 55.7 L2.5 55.4 L0.0 55.1 Z" fill="rgb(191,191,191)"/>
<path d="M92.0 57.9 L94.5 55.8 L97.0 55.2 L99.5 55.0 L102.0 54.9 L104.5 54.8 L107.0 54.6 L109.5 54.1 L112.0 53.4 L114.5 52.7 L117.0 52.0 L119.5 51.3 L122.0 50.5 L124.5 49.8 L127.0 49.2 L129.5 48.6 L132.0 47.9 L134.5 47.3 L137.0 46.7 L139.5 46.1 L142.0 45.4 L144.5 44.8 L147.0 44.2 L149.5 43.7 L152.0 43.1 L154.5 42.6 L157.0 42.0 L159.5 41.5 L160.0 41.4 L160.0 44.9 L159.5 45.0 L157.0 45.5 L154.5 46.1 L152.0 46.6 L149.5 47.2 L147.0 47.7 L144.5 48.3 L142.0 48.9 L139.5 49.6 L137.0 50.2 L134.5 50.8 L132.0 51.4 L129.5 52.1 L127.0 52.7 L124.5 53.3 L122.0 54.0 L119.5 54.8 L117.0 55.5 L114.5 56.2 L112.0 56.9 L109.5 57.6 L107.0 58.0 L104.5 57.7 L102.0 57.5 L99.5 57.2 L97.0 57.0 L94.5 57.3 L92.0 58.9 Z" fill="rgb(191,191,191)"/>
<path d="M0.0 49.6 L2.5 49.9 L5.0 50.2 L7.5 50.5 L10.0 50.8 L12.5 51.0 L15.0 51.3 L17.5 51.6 L20.0 51.9 L22.5 52.4 L25.0 52.9 L27.5 53.5 L30.0 54.0 L32.5 54.5 L35.0 55.0 L37.5 55.8 L40.0 56.5 L42.5 57.3 L45.0 58.1 L47.5 58.9 L50.0 60.7 L52.5 62.6 L55.0 64.5 L57.5 66.3 L60.0 67.6 L62.0 68.6 L62.0 69.1 L60.0 68.2 L57.5 67.1 L55.0 65.4 L52.5 63.7 L50.0 62.0 L47.5 60.4 L45.0 59.8 L42.5 59.2 L40.0 58.5 L37.5 57.8 L35.0 57.0 L32.5 56.5 L30.0 56.0 L27.5 55.5 L25.0 54.9 L22.5 54.4 L20.0 53.9 L17.5 53.6 L15.0 53.3 L12.5 53.0 L10.0 52.8 L7.5 52.5 L5.0 52.2 L2.5 51.9 L0.0 51.6 Z" fill="rgb(214,214,214)"/>
<path d="M92.0 57.3 L94.5 55.0 L97.0 54.1 L99.5 53.8 L102.0 53.4 L104.5 53.1 L107.0 52.7 L109.5 52.1 L112.0 51.4 L114.5 50.7 L117.0 50.0 L119.5 49.3 L122.0 48.5 L124.5 47.8 L127.0 47.2 L129.5 46.6 L132.0 45.9 L134.5 45.3 L137.0 44.7 L139.5 44.1 L142.0 43.4 L144.5 42.8 L147.0 42.2 L149.5 41.7 L152.0 41.1 L154.5 40.6 L157.0 40.0 L159.5 39.5 L160.0 39.4 L160.0 41.4 L159.5 41.5 L157.0 42.0 L154.5 42.6 L152.0 43.1 L149.5 43.7 L147.0 44.2 L144.5 44.8 L142.0 45.4 L139.5 46.1 L137.0 46.7 L134.5 47.3 L132.0 47.9 L129.5 48.6 L127.0 49.2 L124.5 49.8 L122.0 50.5 L119.5 51.3 L117.0 52.0 L114.5 52.7 L112.0 53.4 L109.5 54.1 L107.0 54.6 L104.5 54.8 L102.0 54.9 L99.5 55.0 L97.0 55.2 L94.5 55.8 L92.0 57.9 Z" fill="rgb(214,214,214)"/>
<path d="M55.0 64.5 L57.5 66.3 L60.0 67.6 L62.5 68.8 L65.0 70.1 L67.5 71.3 L70.0 72.3 L72.5 73.3 L75.0 74.3 L77.5 73.1 L80.0 71.7 L82.5 70.3 L85.0 66.7 L87.5 63.0 L90.0 59.2 L92.5 56.8 L95.0 54.6 L97.5 54.1 L98.0 54.0 L98.0 59.0 L97.5 59.1 L95.0 59.6 L92.5 61.8 L90.0 64.2 L87.5 68.0 L85.0 71.7 L82.5 75.3 L80.0 76.7 L77.5 78.1 L75.0 79.3 L72.5 78.3 L70.0 77.3 L67.5 76.3 L65.0 75.1 L62.5 73.8 L60.0 72.6 L57.5 71.3 L55.0 69.5 Z" fill="rgb(128,128,128)"/>
<path d="M74.0 76.0 L84.0 72.0 L88.0 80.0 L86.0 98.0 L80.0 104.0 L76.0 92.0Z" fill="rgb(148,148,148)"/>
<path d="M62.0 72.0 L72.0 78.0 L70.0 96.0 L64.0 90.0Z" fill="rgb(92,92,92)"/>
<path d="M88.0 62.0 L96.0 58.0 L100.0 80.0 L94.0 88.0 L89.0 80.0Z" fill="rgb(115,115,115)"/>
<path d="M104.0 70.0 L114.0 70.0 L112.0 84.0 L106.0 86.0Z" fill="rgb(153,153,153)"/>
</g>
<path d="M0.0 93.6 L20.0 95.9 L35.0 99.0 L47.6 102.9 L57.6 110.4 L67.7 115.4 L75.2 118.4 L82.7 114.2 L90.2 102.9 L95.2 98.4 L107.8 96.6 L125.3 91.6 L145.4 86.6 L160.4 83.3 L160.4 108.0 L0.0 108.0Z" fill="#03040f" opacity="0.42" filter="url(#bl2)"/>
<path d="M0 67.2 L50 75.2" stroke="#050505" stroke-width="1.1" fill="none"/><path d="M110 69 L160.4 53.4" stroke="#050505" stroke-width="1.1" fill="none"/>
<path d="M0.0 49.6 L20.0 51.9 L35.0 55.0 L47.6 58.9 L57.6 66.4 L67.7 71.4 L75.2 74.4 L82.7 70.2 L90.2 58.9 L95.2 54.4 L107.8 52.6 L125.3 47.6 L145.4 42.6 L160.4 39.3" fill="none" stroke="#f2402c" stroke-width="1.5" stroke-linejoin="round" stroke-linecap="round"/>
<path d="M62.0 69.5 L75.2 75.0 L84.0 68.5" stroke="#f03a28" stroke-width="2.6" fill="none" stroke-linejoin="round"/>
<g stroke="#cfcfcf" stroke-width="0.9" fill="none"><rect x="10.0" y="80.2" width="13.6" height="15.7"/><path d="M10.0 88.0 h13.6" stroke-width="1.4" stroke="#e8e8e8"/></g><text x="5.9" y="89.8" font-size="5.2" font-weight="bold" fill="#c4c4c4" text-anchor="middle">T</text><text x="29.3" y="89.8" font-size="5.2" font-weight="bold" fill="#c4c4c4" text-anchor="middle">N</text>
</g></g>
<g transform="translate(25,544.5)"><g clip-path="url(#cliptom)"><g filter="url(#oct2)">
<rect x="0" y="0" width="160" height="107" fill="rgb(0,0,0)"/>
<rect x="0" y="0" width="160" height="45" fill="rgb(8,8,8)"/>
<path d="M0.0 74.1 L2.5 74.3 L5.0 74.4 L7.5 74.6 L10.0 74.8 L12.5 74.9 L15.0 75.1 L17.5 75.2 L20.0 75.4 L22.5 75.9 L25.0 76.5 L27.5 77.0 L30.0 77.5 L32.5 78.0 L35.0 78.6 L37.5 79.1 L40.0 80.1 L42.5 80.7 L45.0 79.7 L47.5 78.7 L50.0 77.6 L52.5 76.6 L55.0 76.0 L57.5 75.5 L60.0 75.0 L62.5 74.5 L65.0 75.6 L67.5 76.8 L68.0 77.1 L68.0 79.2 L67.5 79.0 L65.0 78.2 L62.5 77.6 L60.0 78.6 L57.5 79.6 L55.0 80.6 L52.5 81.6 L50.0 83.1 L47.5 84.6 L45.0 86.1 L42.5 87.6 L40.0 87.1 L37.5 86.1 L35.0 85.6 L32.5 85.0 L30.0 84.5 L27.5 84.0 L25.0 83.5 L22.5 82.9 L20.0 82.4 L17.5 82.2 L15.0 82.1 L12.5 81.9 L10.0 81.8 L7.5 81.6 L5.0 81.4 L2.5 81.3 L0.0 81.1 Z" fill="rgb(51,51,51)"/>
<path d="M90.0 70.2 L92.5 70.1 L95.0 70.7 L97.5 71.3 L100.0 73.7 L102.5 76.3 L105.0 77.5 L107.5 76.5 L110.0 75.5 L112.5 75.0 L115.0 74.5 L117.5 74.0 L120.0 73.6 L122.5 73.1 L125.0 72.6 L127.5 72.1 L130.0 71.7 L132.5 71.4 L135.0 71.2 L137.5 71.0 L140.0 70.8 L142.5 70.6 L145.0 70.4 L147.5 70.2 L150.0 70.0 L152.5 69.8 L155.0 69.5 L157.5 69.3 L160.0 69.1 L160.0 76.1 L157.5 76.3 L155.0 76.5 L152.5 76.8 L150.0 77.0 L147.5 77.2 L145.0 77.4 L142.5 77.6 L140.0 77.8 L137.5 78.0 L135.0 78.2 L132.5 78.4 L130.0 78.7 L127.5 79.1 L125.0 79.6 L122.5 80.1 L120.0 80.6 L117.5 81.0 L115.0 81.5 L112.5 82.0 L110.0 82.5 L107.5 83.5 L105.0 84.5 L102.5 82.8 L100.0 79.4 L97.5 76.2 L95.0 74.8 L92.5 73.4 L90.0 72.7 Z" fill="rgb(51,51,51)"/>
<path d="M0.0 68.1 L2.5 68.3 L5.0 68.4 L7.5 68.6 L10.0 68.8 L12.5 68.9 L15.0 69.1 L17.5 69.2 L20.0 69.4 L22.5 69.9 L25.0 70.5 L27.5 71.0 L30.0 71.5 L32.5 72.0 L35.0 72.6 L37.5 73.1 L40.0 74.1 L42.5 74.8 L45.0 74.2 L47.5 73.6 L50.0 72.9 L52.5 72.3 L55.0 72.1 L57.5 72.0 L60.0 71.9 L62.5 71.8 L65.0 73.3 L67.5 74.9 L68.0 75.3 L68.0 77.1 L67.5 76.8 L65.0 75.6 L62.5 74.5 L60.0 75.0 L57.5 75.5 L55.0 76.0 L52.5 76.6 L50.0 77.6 L47.5 78.7 L45.0 79.7 L42.5 80.7 L40.0 80.1 L37.5 79.1 L35.0 78.6 L32.5 78.0 L30.0 77.5 L27.5 77.0 L25.0 76.5 L22.5 75.9 L20.0 75.4 L17.5 75.2 L15.0 75.1 L12.5 74.9 L10.0 74.8 L7.5 74.6 L5.0 74.4 L2.5 74.3 L0.0 74.1 Z" fill="rgb(87,87,87)"/>
<path d="M90.0 68.2 L92.5 67.3 L95.0 67.2 L97.5 67.1 L100.0 68.8 L102.5 70.8 L105.0 71.5 L107.5 70.5 L110.0 69.5 L112.5 69.0 L115.0 68.5 L117.5 68.0 L120.0 67.6 L122.5 67.1 L125.0 66.6 L127.5 66.1 L130.0 65.7 L132.5 65.4 L135.0 65.2 L137.5 65.0 L140.0 64.8 L142.5 64.6 L145.0 64.4 L147.5 64.2 L150.0 64.0 L152.5 63.8 L155.0 63.5 L157.5 63.3 L160.0 63.1 L160.0 69.1 L157.5 69.3 L155.0 69.5 L152.5 69.8 L150.0 70.0 L147.5 70.2 L145.0 70.4 L142.5 70.6 L140.0 70.8 L137.5 71.0 L135.0 71.2 L132.5 71.4 L130.0 71.7 L127.5 72.1 L125.0 72.6 L122.5 73.1 L120.0 73.6 L117.5 74.0 L115.0 74.5 L112.5 75.0 L110.0 75.5 L107.5 76.5 L105.0 77.5 L102.5 76.3 L100.0 73.7 L97.5 71.3 L95.0 70.7 L92.5 70.1 L90.0 70.2 Z" fill="rgb(87,87,87)"/>
<path d="M0.0 64.1 L2.5 64.3 L5.0 64.4 L7.5 64.6 L10.0 64.8 L12.5 64.9 L15.0 65.1 L17.5 65.2 L20.0 65.4 L22.5 65.9 L25.0 66.5 L27.5 67.0 L30.0 67.5 L32.5 68.0 L35.0 68.6 L37.5 69.1 L40.0 70.1 L42.5 70.9 L45.0 70.5 L47.5 70.1 L50.0 69.8 L52.5 69.4 L55.0 69.5 L57.5 69.7 L60.0 69.8 L62.5 70.0 L65.0 71.8 L67.5 73.7 L68.0 74.1 L68.0 75.3 L67.5 74.9 L65.0 73.3 L62.5 71.8 L60.0 71.9 L57.5 72.0 L55.0 72.1 L52.5 72.3 L50.0 72.9 L47.5 73.6 L45.0 74.2 L42.5 74.8 L40.0 74.1 L37.5 73.1 L35.0 72.6 L32.5 72.0 L30.0 71.5 L27.5 71.0 L25.0 70.5 L22.5 69.9 L20.0 69.4 L17.5 69.2 L15.0 69.1 L12.5 68.9 L10.0 68.8 L7.5 68.6 L5.0 68.4 L2.5 68.3 L0.0 68.1 Z" fill="rgb(115,115,115)"/>
<path d="M90.0 66.8 L92.5 65.5 L95.0 64.9 L97.5 64.3 L100.0 65.6 L102.5 67.0 L105.0 67.5 L107.5 66.5 L110.0 65.5 L112.5 65.0 L115.0 64.5 L117.5 64.0 L120.0 63.6 L122.5 63.1 L125.0 62.6 L127.5 62.1 L130.0 61.7 L132.5 61.4 L135.0 61.2 L137.5 61.0 L140.0 60.8 L142.5 60.6 L145.0 60.4 L147.5 60.2 L150.0 60.0 L152.5 59.8 L155.0 59.5 L157.5 59.3 L160.0 59.1 L160.0 63.1 L157.5 63.3 L155.0 63.5 L152.5 63.8 L150.0 64.0 L147.5 64.2 L145.0 64.4 L142.5 64.6 L140.0 64.8 L137.5 65.0 L135.0 65.2 L132.5 65.4 L130.0 65.7 L127.5 66.1 L125.0 66.6 L122.5 67.1 L120.0 67.6 L117.5 68.0 L115.0 68.5 L112.5 69.0 L110.0 69.5 L107.5 70.5 L105.0 71.5 L102.5 70.8 L100.0 68.8 L97.5 67.1 L95.0 67.2 L92.5 67.3 L90.0 68.2 Z" fill="rgb(115,115,115)"/>
<path d="M0.0 60.1 L2.5 60.3 L5.0 60.4 L7.5 60.6 L10.0 60.8 L12.5 60.9 L15.0 61.1 L17.5 61.2 L20.0 61.4 L22.5 61.9 L25.0 62.5 L27.5 63.0 L30.0 63.5 L32.5 64.0 L35.0 64.6 L37.5 65.1 L40.0 66.1 L42.5 66.9 L45.0 66.8 L47.5 66.7 L50.0 66.6 L52.5 66.6 L55.0 66.9 L57.5 67.4 L60.0 67.8 L62.5 68.2 L65.0 70.2 L67.5 72.4 L68.0 72.9 L68.0 74.1 L67.5 73.7 L65.0 71.8 L62.5 70.0 L60.0 69.8 L57.5 69.7 L55.0 69.5 L52.5 69.4 L50.0 69.8 L47.5 70.1 L45.0 70.5 L42.5 70.9 L40.0 70.1 L37.5 69.1 L35.0 68.6 L32.5 68.0 L30.0 67.5 L27.5 67.0 L25.0 66.5 L22.5 65.9 L20.0 65.4 L17.5 65.2 L15.0 65.1 L12.5 64.9 L10.0 64.8 L7.5 64.6 L5.0 64.4 L2.5 64.3 L0.0 64.1 Z" fill="rgb(153,153,153)"/>
<path d="M90.0 65.3 L92.5 63.6 L95.0 62.6 L97.5 61.5 L100.0 62.3 L102.5 63.3 L105.0 63.5 L107.5 62.5 L110.0 61.5 L112.5 61.0 L115.0 60.5 L117.5 60.0 L120.0 59.6 L122.5 59.1 L125.0 58.6 L127.5 58.1 L130.0 57.7 L132.5 57.4 L135.0 57.2 L137.5 57.0 L140.0 56.8 L142.5 56.6 L145.0 56.4 L147.5 56.2 L150.0 56.0 L152.5 55.8 L155.0 55.5 L157.5 55.3 L160.0 55.1 L160.0 59.1 L157.5 59.3 L155.0 59.5 L152.5 59.8 L150.0 60.0 L147.5 60.2 L145.0 60.4 L142.5 60.6 L140.0 60.8 L137.5 61.0 L135.0 61.2 L132.5 61.4 L130.0 61.7 L127.5 62.1 L125.0 62.6 L122.5 63.1 L120.0 63.6 L117.5 64.0 L115.0 64.5 L112.5 65.0 L110.0 65.5 L107.5 66.5 L105.0 67.5 L102.5 67.0 L100.0 65.6 L97.5 64.3 L95.0 64.9 L92.5 65.5 L90.0 66.8 Z" fill="rgb(153,153,153)"/>
<path d="M0.0 53.1 L2.5 53.3 L5.0 53.4 L7.5 53.6 L10.0 53.8 L12.5 53.9 L15.0 54.1 L17.5 54.2 L20.0 54.4 L22.5 54.9 L25.0 55.5 L27.5 56.0 L30.0 56.5 L32.5 57.0 L35.0 57.6 L37.5 58.1 L40.0 59.1 L42.5 60.0 L45.0 60.4 L47.5 60.8 L50.0 61.2 L52.5 61.5 L55.0 62.4 L57.5 63.3 L60.0 64.2 L62.5 65.1 L65.0 67.6 L67.5 70.2 L68.0 70.8 L68.0 72.7 L67.5 72.3 L65.0 70.0 L62.5 68.0 L60.0 67.5 L57.5 67.1 L55.0 66.6 L52.5 66.2 L50.0 66.3 L47.5 66.3 L45.0 66.4 L42.5 66.4 L40.0 65.6 L37.5 64.6 L35.0 64.1 L32.5 63.5 L30.0 63.0 L27.5 62.5 L25.0 62.0 L22.5 61.4 L20.0 60.9 L17.5 60.7 L15.0 60.6 L12.5 60.4 L10.0 60.2 L7.5 60.1 L5.0 59.9 L2.5 59.8 L0.0 59.6 Z" fill="rgb(145,145,145)"/>
<path d="M90.0 62.9 L92.5 60.4 L95.0 58.5 L97.5 56.6 L100.0 56.6 L102.5 56.8 L105.0 56.5 L107.5 55.5 L110.0 54.5 L112.5 54.0 L115.0 53.5 L117.5 53.0 L120.0 52.6 L122.5 52.1 L125.0 51.6 L127.5 51.1 L130.0 50.7 L132.5 50.4 L135.0 50.2 L137.5 50.0 L140.0 49.8 L142.5 49.6 L145.0 49.4 L147.5 49.2 L150.0 49.0 L152.5 48.8 L155.0 48.5 L157.5 48.3 L160.0 48.1 L160.0 54.6 L157.5 54.8 L155.0 55.0 L152.5 55.3 L150.0 55.5 L147.5 55.7 L145.0 55.9 L142.5 56.1 L140.0 56.3 L137.5 56.5 L135.0 56.7 L132.5 56.9 L130.0 57.2 L127.5 57.6 L125.0 58.1 L122.5 58.6 L120.0 59.1 L117.5 59.5 L115.0 60.0 L112.5 60.5 L110.0 61.0 L107.5 62.0 L105.0 63.0 L102.5 62.8 L100.0 61.9 L97.5 61.2 L95.0 62.3 L92.5 63.4 L90.0 65.2 Z" fill="rgb(145,145,145)"/>
<path d="M0.0 45.1 L2.5 45.3 L5.0 45.4 L7.5 45.6 L10.0 45.8 L12.5 45.9 L15.0 46.1 L17.5 46.2 L20.0 46.4 L22.5 46.9 L25.0 47.5 L27.5 48.0 L30.0 48.5 L32.5 49.0 L35.0 49.6 L37.5 50.1 L40.0 51.1 L42.5 52.1 L45.0 53.0 L47.5 54.0 L50.0 54.9 L52.5 55.8 L55.0 57.2 L57.5 58.6 L60.0 60.0 L62.5 61.5 L65.0 64.5 L67.5 67.7 L68.0 68.4 L68.0 70.8 L67.5 70.2 L65.0 67.6 L62.5 65.1 L60.0 64.2 L57.5 63.3 L55.0 62.4 L52.5 61.5 L50.0 61.2 L47.5 60.8 L45.0 60.4 L42.5 60.0 L40.0 59.1 L37.5 58.1 L35.0 57.6 L32.5 57.0 L30.0 56.5 L27.5 56.0 L25.0 55.5 L22.5 54.9 L20.0 54.4 L17.5 54.2 L15.0 54.1 L12.5 53.9 L10.0 53.8 L7.5 53.6 L5.0 53.4 L2.5 53.3 L0.0 53.1 Z" fill="rgb(194,194,194)"/>
<path d="M90.0 60.1 L92.5 56.6 L95.0 53.8 L97.5 51.0 L100.0 50.1 L102.5 49.4 L105.0 48.5 L107.5 47.5 L110.0 46.5 L112.5 46.0 L115.0 45.5 L117.5 45.0 L120.0 44.6 L122.5 44.1 L125.0 43.6 L127.5 43.1 L130.0 42.7 L132.5 42.4 L135.0 42.2 L137.5 42.0 L140.0 41.8 L142.5 41.6 L145.0 41.4 L147.5 41.2 L150.0 41.0 L152.5 40.8 L155.0 40.5 L157.5 40.3 L160.0 40.1 L160.0 48.1 L157.5 48.3 L155.0 48.5 L152.5 48.8 L150.0 49.0 L147.5 49.2 L145.0 49.4 L142.5 49.6 L140.0 49.8 L137.5 50.0 L135.0 50.2 L132.5 50.4 L130.0 50.7 L127.5 51.1 L125.0 51.6 L122.5 52.1 L120.0 52.6 L117.5 53.0 L115.0 53.5 L112.5 54.0 L110.0 54.5 L107.5 55.5 L105.0 56.5 L102.5 56.8 L100.0 56.6 L97.5 56.6 L95.0 58.5 L92.5 60.4 L90.0 62.9 Z" fill="rgb(194,194,194)"/>
<path d="M0.0 43.1 L2.5 43.3 L5.0 43.4 L7.5 43.6 L10.0 43.8 L12.5 43.9 L15.0 44.1 L17.5 44.2 L20.0 44.4 L22.5 44.9 L25.0 45.5 L27.5 46.0 L30.0 46.5 L32.5 47.0 L35.0 47.6 L37.5 48.1 L40.0 49.1 L42.5 50.2 L45.0 51.2 L47.5 52.3 L50.0 53.3 L52.5 54.4 L55.0 55.9 L57.5 57.5 L60.0 59.0 L62.5 60.6 L65.0 63.8 L67.5 67.1 L68.0 67.8 L68.0 68.4 L67.5 67.7 L65.0 64.5 L62.5 61.5 L60.0 60.0 L57.5 58.6 L55.0 57.2 L52.5 55.8 L50.0 54.9 L47.5 54.0 L45.0 53.0 L42.5 52.1 L40.0 51.1 L37.5 50.1 L35.0 49.6 L32.5 49.0 L30.0 48.5 L27.5 48.0 L25.0 47.5 L22.5 46.9 L20.0 46.4 L17.5 46.2 L15.0 46.1 L12.5 45.9 L10.0 45.8 L7.5 45.6 L5.0 45.4 L2.5 45.3 L0.0 45.1 Z" fill="rgb(219,219,219)"/>
<path d="M90.0 59.4 L92.5 55.7 L95.0 52.7 L97.5 49.6 L100.0 48.5 L102.5 47.5 L105.0 46.5 L107.5 45.5 L110.0 44.5 L112.5 44.0 L115.0 43.5 L117.5 43.0 L120.0 42.6 L122.5 42.1 L125.0 41.6 L127.5 41.1 L130.0 40.7 L132.5 40.4 L135.0 40.2 L137.5 40.0 L140.0 39.8 L142.5 39.6 L145.0 39.4 L147.5 39.2 L150.0 39.0 L152.5 38.8 L155.0 38.5 L157.5 38.3 L160.0 38.1 L160.0 40.1 L157.5 40.3 L155.0 40.5 L152.5 40.8 L150.0 41.0 L147.5 41.2 L145.0 41.4 L142.5 41.6 L140.0 41.8 L137.5 42.0 L135.0 42.2 L132.5 42.4 L130.0 42.7 L127.5 43.1 L125.0 43.6 L122.5 44.1 L120.0 44.6 L117.5 45.0 L115.0 45.5 L112.5 46.0 L110.0 46.5 L107.5 47.5 L105.0 48.5 L102.5 49.4 L100.0 50.1 L97.5 51.0 L95.0 53.8 L92.5 56.6 L90.0 60.1 Z" fill="rgb(219,219,219)"/>
<path d="M66.0 64.0 L72.0 74.0 L82.0 74.0 L90.0 62.0 L90.0 84.0 L86.0 94.0 L80.0 90.0 L74.0 84.0Z" fill="rgb(153,153,153)"/>
<path d="M76.0 76.0 L82.0 76.0 L84.0 92.0 L79.0 88.0Z" fill="rgb(184,184,184)"/>
<path d="M44.0 62.0 L60.0 64.0 L64.0 80.0 L52.0 76.0Z" fill="rgb(115,115,115)"/>
<path d="M114.0 62.0 L124.0 60.0 L122.0 74.0 L116.0 76.0Z" fill="rgb(128,128,128)"/>
</g>
<path d="M0.0 85.1 L20.0 86.4 L37.6 90.1 L52.6 96.4 L62.7 102.7 L70.2 112.7 L76.4 115.7 L84.0 111.4 L91.5 98.9 L97.7 91.4 L110.3 86.4 L130.3 82.6 L160.4 80.1 L160.4 108.0 L0.0 108.0Z" fill="#03040f" opacity="0.42" filter="url(#bl2)"/>
<path d="M0 60.2 L45 67" stroke="#050505" stroke-width="1" fill="none"/><path d="M115 64.4 L160 54.4" stroke="#050505" stroke-width="1" fill="none"/>
<path d="M0.0 43.1 L20.0 44.4 L37.6 48.1 L52.6 54.4 L62.7 60.7 L70.2 70.7 L76.4 73.7 L84.0 69.4 L91.5 56.9 L97.7 49.4 L110.3 44.4 L130.3 40.6 L160.4 38.1" fill="none" stroke="#f2402c" stroke-width="1.6" stroke-linejoin="round" stroke-linecap="round"/>
<path d="M66.0 65.0 L70.2 71.0 L76.4 74.2 L84.0 70.0 L88.0 63.0" stroke="#f03a28" stroke-width="2.6" fill="none" stroke-linejoin="round"/>
<g stroke="#cfcfcf" stroke-width="0.9" fill="none"><rect x="10.0" y="78.60000000000001" width="13.6" height="15.7"/><path d="M16.8 78.60000000000001 v15.7"/></g><text x="5.9" y="88.2" font-size="5.2" font-weight="bold" fill="#c4c4c4" text-anchor="middle">T</text><text x="29.3" y="88.2" font-size="5.2" font-weight="bold" fill="#c4c4c4" text-anchor="middle">N</text>
</g></g>
<g transform="translate(25,665.5)"><g clip-path="url(#cliptom)"><g filter="url(#oct3)">
<rect x="0" y="0" width="160" height="107" fill="rgb(0,0,0)"/>
<rect x="0" y="0" width="160" height="45" fill="rgb(6,6,6)"/>
<path d="M0.0 78.4 L2.5 77.8 L5.0 77.1 L7.5 76.5 L10.0 75.9 L12.5 75.2 L15.0 74.6 L17.5 73.6 L20.0 72.5 L22.5 71.5 L25.0 70.5 L27.5 69.4 L30.0 68.4 L32.5 68.1 L35.0 67.8 L37.5 67.5 L40.0 67.2 L42.5 66.9 L45.0 66.6 L47.5 66.6 L50.0 66.6 L52.5 66.6 L55.0 66.6 L57.5 66.6 L60.0 66.6 L62.5 66.6 L65.0 66.6 L67.5 66.8 L70.0 67.0 L72.5 67.3 L75.0 67.5 L77.5 67.7 L80.0 67.9 L82.5 68.2 L85.0 68.4 L87.5 68.7 L90.0 69.0 L92.5 69.3 L95.0 69.6 L97.5 69.9 L100.0 70.2 L102.5 70.6 L105.0 70.9 L107.5 71.4 L110.0 71.9 L112.5 72.4 L115.0 72.9 L117.5 73.4 L120.0 72.9 L122.5 72.7 L125.0 74.5 L127.5 75.6 L130.0 76.1 L132.5 76.6 L135.0 77.1 L137.5 77.6 L140.0 78.0 L142.5 78.5 L145.0 79.0 L147.5 79.2 L150.0 79.4 L152.5 79.6 L155.0 79.7 L157.5 79.9 L160.0 80.1 L160.0 84.1 L157.5 83.9 L155.0 83.7 L152.5 83.6 L150.0 83.4 L147.5 83.2 L145.0 83.0 L142.5 82.5 L140.0 82.0 L137.5 81.6 L135.0 81.1 L132.5 80.6 L130.0 80.1 L127.5 79.6 L125.0 78.5 L122.5 76.7 L120.0 76.9 L117.5 77.4 L115.0 76.9 L112.5 76.4 L110.0 75.9 L107.5 75.4 L105.0 74.9 L102.5 74.6 L100.0 74.2 L97.5 73.9 L95.0 73.6 L92.5 73.3 L90.0 73.0 L87.5 72.7 L85.0 72.4 L82.5 72.2 L80.0 71.9 L77.5 71.7 L75.0 71.5 L72.5 71.3 L70.0 71.0 L67.5 70.8 L65.0 70.6 L62.5 70.6 L60.0 70.6 L57.5 70.6 L55.0 70.6 L52.5 70.6 L50.0 70.6 L47.5 70.6 L45.0 70.6 L42.5 70.9 L40.0 71.2 L37.5 71.5 L35.0 71.8 L32.5 72.1 L30.0 72.4 L27.5 73.4 L25.0 74.5 L22.5 75.5 L20.0 76.5 L17.5 77.6 L15.0 78.6 L12.5 79.2 L10.0 79.9 L7.5 80.5 L5.0 81.1 L2.5 81.8 L0.0 82.4 Z" fill="rgb(46,46,46)"/>
<path d="M0.0 74.9 L2.5 74.3 L5.0 73.6 L7.5 73.0 L10.0 72.4 L12.5 71.7 L15.0 71.1 L17.5 70.1 L20.0 69.0 L22.5 68.0 L25.0 67.0 L27.5 65.9 L30.0 64.9 L32.5 64.6 L35.0 64.3 L37.5 64.0 L40.0 63.7 L42.5 63.4 L45.0 63.1 L47.5 63.1 L50.0 63.1 L52.5 63.1 L55.0 63.1 L57.5 63.1 L60.0 63.1 L62.5 63.1 L65.0 63.1 L67.5 63.3 L70.0 63.5 L72.5 63.8 L75.0 64.0 L77.5 64.2 L80.0 64.4 L82.5 64.7 L85.0 64.9 L87.5 65.2 L90.0 65.5 L92.5 65.8 L95.0 66.1 L97.5 66.4 L100.0 66.7 L102.5 67.1 L105.0 67.4 L107.5 67.9 L110.0 68.4 L112.5 68.9 L115.0 69.4 L117.5 69.9 L120.0 69.4 L122.5 69.2 L125.0 71.0 L127.5 72.1 L130.0 72.6 L132.5 73.1 L135.0 73.6 L137.5 74.1 L140.0 74.5 L142.5 75.0 L145.0 75.5 L147.5 75.7 L150.0 75.9 L152.5 76.1 L155.0 76.2 L157.5 76.4 L160.0 76.6 L160.0 80.1 L157.5 79.9 L155.0 79.7 L152.5 79.6 L150.0 79.4 L147.5 79.2 L145.0 79.0 L142.5 78.5 L140.0 78.0 L137.5 77.6 L135.0 77.1 L132.5 76.6 L130.0 76.1 L127.5 75.6 L125.0 74.5 L122.5 72.7 L120.0 72.9 L117.5 73.4 L115.0 72.9 L112.5 72.4 L110.0 71.9 L107.5 71.4 L105.0 70.9 L102.5 70.6 L100.0 70.2 L97.5 69.9 L95.0 69.6 L92.5 69.3 L90.0 69.0 L87.5 68.7 L85.0 68.4 L82.5 68.2 L80.0 67.9 L77.5 67.7 L75.0 67.5 L72.5 67.3 L70.0 67.0 L67.5 66.8 L65.0 66.6 L62.5 66.6 L60.0 66.6 L57.5 66.6 L55.0 66.6 L52.5 66.6 L50.0 66.6 L47.5 66.6 L45.0 66.6 L42.5 66.9 L40.0 67.2 L37.5 67.5 L35.0 67.8 L32.5 68.1 L30.0 68.4 L27.5 69.4 L25.0 70.5 L22.5 71.5 L20.0 72.5 L17.5 73.6 L15.0 74.6 L12.5 75.2 L10.0 75.9 L7.5 76.5 L5.0 77.1 L2.5 77.8 L0.0 78.4 Z" fill="rgb(82,82,82)"/>
<path d="M0.0 71.9 L2.5 71.3 L5.0 70.6 L7.5 70.0 L10.0 69.4 L12.5 68.7 L15.0 68.1 L17.5 67.1 L20.0 66.0 L22.5 65.0 L25.0 64.0 L27.5 62.9 L30.0 61.9 L32.5 61.6 L35.0 61.3 L37.5 61.0 L40.0 60.7 L42.5 60.4 L45.0 60.1 L47.5 60.1 L50.0 60.1 L52.5 60.1 L55.0 60.1 L57.5 60.1 L60.0 60.1 L62.5 60.1 L65.0 60.1 L67.5 60.3 L70.0 60.5 L72.5 60.8 L75.0 61.0 L77.5 61.2 L80.0 61.4 L82.5 61.7 L85.0 61.9 L87.5 62.2 L90.0 62.5 L92.5 62.8 L95.0 63.1 L97.5 63.4 L100.0 63.7 L102.5 64.1 L105.0 64.4 L107.5 64.9 L110.0 65.4 L112.5 65.9 L115.0 66.4 L117.5 66.9 L120.0 66.4 L122.5 66.2 L125.0 68.0 L127.5 69.1 L130.0 69.6 L132.5 70.1 L135.0 70.6 L137.5 71.1 L140.0 71.5 L142.5 72.0 L145.0 72.5 L147.5 72.7 L150.0 72.9 L152.5 73.1 L155.0 73.2 L157.5 73.4 L160.0 73.6 L160.0 76.6 L157.5 76.4 L155.0 76.2 L152.5 76.1 L150.0 75.9 L147.5 75.7 L145.0 75.5 L142.5 75.0 L140.0 74.5 L137.5 74.1 L135.0 73.6 L132.5 73.1 L130.0 72.6 L127.5 72.1 L125.0 71.0 L122.5 69.2 L120.0 69.4 L117.5 69.9 L115.0 69.4 L112.5 68.9 L110.0 68.4 L107.5 67.9 L105.0 67.4 L102.5 67.1 L100.0 66.7 L97.5 66.4 L95.0 66.1 L92.5 65.8 L90.0 65.5 L87.5 65.2 L85.0 64.9 L82.5 64.7 L80.0 64.4 L77.5 64.2 L75.0 64.0 L72.5 63.8 L70.0 63.5 L67.5 63.3 L65.0 63.1 L62.5 63.1 L60.0 63.1 L57.5 63.1 L55.0 63.1 L52.5 63.1 L50.0 63.1 L47.5 63.1 L45.0 63.1 L42.5 63.4 L40.0 63.7 L37.5 64.0 L35.0 64.3 L32.5 64.6 L30.0 64.9 L27.5 65.9 L25.0 67.0 L22.5 68.0 L20.0 69.0 L17.5 70.1 L15.0 71.1 L12.5 71.7 L10.0 72.4 L7.5 73.0 L5.0 73.6 L2.5 74.3 L0.0 74.9 Z" fill="rgb(112,112,112)"/>
<path d="M0.0 68.1 L2.5 67.5 L5.0 66.8 L7.5 66.2 L10.0 65.6 L12.5 64.9 L15.0 64.3 L17.5 63.3 L20.0 62.2 L22.5 61.2 L25.0 60.2 L27.5 59.1 L30.0 58.1 L32.5 57.8 L35.0 57.5 L37.5 57.2 L40.0 56.9 L42.5 56.6 L45.0 56.3 L47.5 56.3 L50.0 56.3 L52.5 56.3 L55.0 56.3 L57.5 56.3 L60.0 56.3 L62.5 56.3 L65.0 56.3 L67.5 56.5 L70.0 56.7 L72.5 57.0 L75.0 57.2 L77.5 57.4 L80.0 57.6 L82.5 57.9 L85.0 58.1 L87.5 58.4 L90.0 58.7 L92.5 59.0 L95.0 59.3 L97.5 59.6 L100.0 59.9 L102.5 60.3 L105.0 60.6 L107.5 61.1 L110.0 61.6 L112.5 62.1 L115.0 62.6 L117.5 63.1 L120.0 62.6 L122.5 62.4 L125.0 64.2 L127.5 65.3 L130.0 65.8 L132.5 66.3 L135.0 66.8 L137.5 67.3 L140.0 67.7 L142.5 68.2 L145.0 68.7 L147.5 68.9 L150.0 69.1 L152.5 69.3 L155.0 69.4 L157.5 69.6 L160.0 69.8 L160.0 73.6 L157.5 73.4 L155.0 73.2 L152.5 73.1 L150.0 72.9 L147.5 72.7 L145.0 72.5 L142.5 72.0 L140.0 71.5 L137.5 71.1 L135.0 70.6 L132.5 70.1 L130.0 69.6 L127.5 69.1 L125.0 68.0 L122.5 66.2 L120.0 66.4 L117.5 66.9 L115.0 66.4 L112.5 65.9 L110.0 65.4 L107.5 64.9 L105.0 64.4 L102.5 64.1 L100.0 63.7 L97.5 63.4 L95.0 63.1 L92.5 62.8 L90.0 62.5 L87.5 62.2 L85.0 61.9 L82.5 61.7 L80.0 61.4 L77.5 61.2 L75.0 61.0 L72.5 60.8 L70.0 60.5 L67.5 60.3 L65.0 60.1 L62.5 60.1 L60.0 60.1 L57.5 60.1 L55.0 60.1 L52.5 60.1 L50.0 60.1 L47.5 60.1 L45.0 60.1 L42.5 60.4 L40.0 60.7 L37.5 61.0 L35.0 61.3 L32.5 61.6 L30.0 61.9 L27.5 62.9 L25.0 64.0 L22.5 65.0 L20.0 66.0 L17.5 67.1 L15.0 68.1 L12.5 68.7 L10.0 69.4 L7.5 70.0 L5.0 70.6 L2.5 71.3 L0.0 71.9 Z" fill="rgb(140,140,140)"/>
<path d="M0.0 65.3 L2.5 64.7 L5.0 64.0 L7.5 63.4 L10.0 62.8 L12.5 62.1 L15.0 61.5 L17.5 60.5 L20.0 59.4 L22.5 58.4 L25.0 57.4 L27.5 56.3 L30.0 55.3 L32.5 55.0 L35.0 54.7 L37.5 54.4 L40.0 54.1 L42.5 53.8 L45.0 53.5 L47.5 53.5 L50.0 53.5 L52.5 53.5 L55.0 53.5 L57.5 53.5 L60.0 53.5 L62.5 53.5 L65.0 53.5 L67.5 53.7 L70.0 53.9 L72.5 54.2 L75.0 54.4 L77.5 54.6 L80.0 54.8 L82.5 55.1 L85.0 55.3 L87.5 55.6 L90.0 55.9 L92.5 56.2 L95.0 56.5 L97.5 56.8 L100.0 57.1 L102.5 57.5 L105.0 57.8 L107.5 58.3 L110.0 58.8 L112.5 59.3 L115.0 59.8 L117.5 60.3 L120.0 59.8 L122.5 59.6 L125.0 61.4 L127.5 62.5 L130.0 63.0 L132.5 63.5 L135.0 64.0 L137.5 64.5 L140.0 64.9 L142.5 65.4 L145.0 65.9 L147.5 66.1 L150.0 66.3 L152.5 66.5 L155.0 66.6 L157.5 66.8 L160.0 67.0 L160.0 69.8 L157.5 69.6 L155.0 69.4 L152.5 69.3 L150.0 69.1 L147.5 68.9 L145.0 68.7 L142.5 68.2 L140.0 67.7 L137.5 67.3 L135.0 66.8 L132.5 66.3 L130.0 65.8 L127.5 65.3 L125.0 64.2 L122.5 62.4 L120.0 62.6 L117.5 63.1 L115.0 62.6 L112.5 62.1 L110.0 61.6 L107.5 61.1 L105.0 60.6 L102.5 60.3 L100.0 59.9 L97.5 59.6 L95.0 59.3 L92.5 59.0 L90.0 58.7 L87.5 58.4 L85.0 58.1 L82.5 57.9 L80.0 57.6 L77.5 57.4 L75.0 57.2 L72.5 57.0 L70.0 56.7 L67.5 56.5 L65.0 56.3 L62.5 56.3 L60.0 56.3 L57.5 56.3 L55.0 56.3 L52.5 56.3 L50.0 56.3 L47.5 56.3 L45.0 56.3 L42.5 56.6 L40.0 56.9 L37.5 57.2 L35.0 57.5 L32.5 57.8 L30.0 58.1 L27.5 59.1 L25.0 60.2 L22.5 61.2 L20.0 62.2 L17.5 63.3 L15.0 64.3 L12.5 64.9 L10.0 65.6 L7.5 66.2 L5.0 66.8 L2.5 67.5 L0.0 68.1 Z" fill="rgb(204,204,204)"/>
<path d="M0.0 63.5 L2.5 62.9 L5.0 62.2 L7.5 61.6 L10.0 61.0 L12.5 60.3 L15.0 59.7 L17.5 58.7 L20.0 57.6 L22.5 56.6 L25.0 55.6 L27.5 54.5 L30.0 53.5 L32.5 53.2 L35.0 52.9 L37.5 52.6 L40.0 52.3 L42.5 52.0 L45.0 51.7 L47.5 51.7 L50.0 51.7 L52.5 51.7 L55.0 51.7 L57.5 51.7 L60.0 51.7 L62.5 51.7 L65.0 51.7 L67.5 51.9 L70.0 52.1 L72.5 52.4 L75.0 52.6 L77.5 52.8 L80.0 53.0 L82.5 53.3 L85.0 53.5 L87.5 53.8 L90.0 54.1 L92.5 54.4 L95.0 54.7 L97.5 55.0 L100.0 55.3 L102.5 55.7 L105.0 56.0 L107.5 56.5 L110.0 57.0 L112.5 57.5 L115.0 58.0 L117.5 58.5 L120.0 58.0 L122.5 57.8 L125.0 59.6 L127.5 60.7 L130.0 61.2 L132.5 61.7 L135.0 62.2 L137.5 62.7 L140.0 63.1 L142.5 63.6 L145.0 64.1 L147.5 64.3 L150.0 64.5 L152.5 64.7 L155.0 64.8 L157.5 65.0 L160.0 65.2 L160.0 67.0 L157.5 66.8 L155.0 66.6 L152.5 66.5 L150.0 66.3 L147.5 66.1 L145.0 65.9 L142.5 65.4 L140.0 64.9 L137.5 64.5 L135.0 64.0 L132.5 63.5 L130.0 63.0 L127.5 62.5 L125.0 61.4 L122.5 59.6 L120.0 59.8 L117.5 60.3 L115.0 59.8 L112.5 59.3 L110.0 58.8 L107.5 58.3 L105.0 57.8 L102.5 57.5 L100.0 57.1 L97.5 56.8 L95.0 56.5 L92.5 56.2 L90.0 55.9 L87.5 55.6 L85.0 55.3 L82.5 55.1 L80.0 54.8 L77.5 54.6 L75.0 54.4 L72.5 54.2 L70.0 53.9 L67.5 53.7 L65.0 53.5 L62.5 53.5 L60.0 53.5 L57.5 53.5 L55.0 53.5 L52.5 53.5 L50.0 53.5 L47.5 53.5 L45.0 53.5 L42.5 53.8 L40.0 54.1 L37.5 54.4 L35.0 54.7 L32.5 55.0 L30.0 55.3 L27.5 56.3 L25.0 57.4 L22.5 58.4 L20.0 59.4 L17.5 60.5 L15.0 61.5 L12.5 62.1 L10.0 62.8 L7.5 63.4 L5.0 64.0 L2.5 64.7 L0.0 65.3 Z" fill="rgb(69,69,69)"/>
<path d="M0.0 58.3 L2.5 57.7 L5.0 57.0 L7.5 56.4 L10.0 55.8 L12.5 55.1 L15.0 54.5 L17.5 53.5 L20.0 52.4 L22.5 51.4 L25.0 50.4 L27.5 49.3 L30.0 48.3 L32.5 48.0 L35.0 47.7 L37.5 47.4 L40.0 47.1 L42.5 46.8 L45.0 46.5 L47.5 46.5 L50.0 46.5 L52.5 46.5 L55.0 46.5 L57.5 46.5 L60.0 46.5 L62.5 46.5 L65.0 46.5 L67.5 46.7 L70.0 46.9 L72.5 47.2 L75.0 47.4 L77.5 47.6 L80.0 47.8 L82.5 48.1 L85.0 48.3 L87.5 48.6 L90.0 48.9 L92.5 49.2 L95.0 49.5 L97.5 49.8 L100.0 50.1 L102.5 50.5 L105.0 50.8 L107.5 51.3 L110.0 51.8 L112.5 52.3 L115.0 52.8 L117.5 53.3 L120.0 52.8 L122.5 52.6 L125.0 54.4 L127.5 55.5 L130.0 56.0 L132.5 56.5 L135.0 57.0 L137.5 57.5 L140.0 57.9 L142.5 58.4 L145.0 58.9 L147.5 59.1 L150.0 59.3 L152.5 59.5 L155.0 59.6 L157.5 59.8 L160.0 60.0 L160.0 65.2 L157.5 65.0 L155.0 64.8 L152.5 64.7 L150.0 64.5 L147.5 64.3 L145.0 64.1 L142.5 63.6 L140.0 63.1 L137.5 62.7 L135.0 62.2 L132.5 61.7 L130.0 61.2 L127.5 60.7 L125.0 59.6 L122.5 57.8 L120.0 58.0 L117.5 58.5 L115.0 58.0 L112.5 57.5 L110.0 57.0 L107.5 56.5 L105.0 56.0 L102.5 55.7 L100.0 55.3 L97.5 55.0 L95.0 54.7 L92.5 54.4 L90.0 54.1 L87.5 53.8 L85.0 53.5 L82.5 53.3 L80.0 53.0 L77.5 52.8 L75.0 52.6 L72.5 52.4 L70.0 52.1 L67.5 51.9 L65.0 51.7 L62.5 51.7 L60.0 51.7 L57.5 51.7 L55.0 51.7 L52.5 51.7 L50.0 51.7 L47.5 51.7 L45.0 51.7 L42.5 52.0 L40.0 52.3 L37.5 52.6 L35.0 52.9 L32.5 53.2 L30.0 53.5 L27.5 54.5 L25.0 55.6 L22.5 56.6 L20.0 57.6 L17.5 58.7 L15.0 59.7 L12.5 60.3 L10.0 61.0 L7.5 61.6 L5.0 62.2 L2.5 62.9 L0.0 63.5 Z" fill="rgb(135,135,135)"/>
<path d="M0.0 56.9 L2.5 56.3 L5.0 55.6 L7.5 55.0 L10.0 54.4 L12.5 53.7 L15.0 53.1 L17.5 52.1 L20.0 51.0 L22.5 50.0 L25.0 49.0 L27.5 47.9 L30.0 46.9 L32.5 46.6 L35.0 46.3 L37.5 46.0 L40.0 45.7 L42.5 45.4 L45.0 45.1 L47.5 45.1 L50.0 45.1 L52.5 45.1 L55.0 45.1 L57.5 45.1 L60.0 45.1 L62.5 45.1 L65.0 45.1 L67.5 45.3 L70.0 45.5 L72.5 45.8 L75.0 46.0 L77.5 46.2 L80.0 46.4 L82.5 46.7 L85.0 46.9 L87.5 47.2 L90.0 47.5 L92.5 47.8 L95.0 48.1 L97.5 48.4 L100.0 48.7 L102.5 49.1 L105.0 49.4 L107.5 49.9 L110.0 50.4 L112.5 50.9 L115.0 51.4 L117.5 51.9 L120.0 51.4 L122.5 51.2 L125.0 53.0 L127.5 54.1 L130.0 54.6 L132.5 55.1 L135.0 55.6 L137.5 56.1 L140.0 56.5 L142.5 57.0 L145.0 57.5 L147.5 57.7 L150.0 57.9 L152.5 58.1 L155.0 58.2 L157.5 58.4 L160.0 58.6 L160.0 60.0 L157.5 59.8 L155.0 59.6 L152.5 59.5 L150.0 59.3 L147.5 59.1 L145.0 58.9 L142.5 58.4 L140.0 57.9 L137.5 57.5 L135.0 57.0 L132.5 56.5 L130.0 56.0 L127.5 55.5 L125.0 54.4 L122.5 52.6 L120.0 52.8 L117.5 53.3 L115.0 52.8 L112.5 52.3 L110.0 51.8 L107.5 51.3 L105.0 50.8 L102.5 50.5 L100.0 50.1 L97.5 49.8 L95.0 49.5 L92.5 49.2 L90.0 48.9 L87.5 48.6 L85.0 48.3 L82.5 48.1 L80.0 47.8 L77.5 47.6 L75.0 47.4 L72.5 47.2 L70.0 46.9 L67.5 46.7 L65.0 46.5 L62.5 46.5 L60.0 46.5 L57.5 46.5 L55.0 46.5 L52.5 46.5 L50.0 46.5 L47.5 46.5 L45.0 46.5 L42.5 46.8 L40.0 47.1 L37.5 47.4 L35.0 47.7 L32.5 48.0 L30.0 48.3 L27.5 49.3 L25.0 50.4 L22.5 51.4 L20.0 52.4 L17.5 53.5 L15.0 54.5 L12.5 55.1 L10.0 55.8 L7.5 56.4 L5.0 57.0 L2.5 57.7 L0.0 58.3 Z" fill="rgb(115,115,115)"/>
<path d="M0.0 52.5 L2.5 51.9 L5.0 51.2 L7.5 50.6 L10.0 50.0 L12.5 49.3 L15.0 48.7 L17.5 47.7 L20.0 46.6 L22.5 45.6 L25.0 44.6 L27.5 43.5 L30.0 42.5 L32.5 42.2 L35.0 41.9 L37.5 41.6 L40.0 41.3 L42.5 41.0 L45.0 40.7 L47.5 40.7 L50.0 40.7 L52.5 40.7 L55.0 40.7 L57.5 40.7 L60.0 40.7 L62.5 40.7 L65.0 40.7 L67.5 40.9 L70.0 41.1 L72.5 41.4 L75.0 41.6 L77.5 41.8 L80.0 42.0 L82.5 42.3 L85.0 42.5 L87.5 42.8 L90.0 43.1 L92.5 43.4 L95.0 43.7 L97.5 44.0 L100.0 44.3 L102.5 44.7 L105.0 45.0 L107.5 45.5 L110.0 46.0 L112.5 46.5 L115.0 47.0 L117.5 47.5 L120.0 47.0 L122.5 46.8 L125.0 48.6 L127.5 49.7 L130.0 50.2 L132.5 50.7 L135.0 51.2 L137.5 51.7 L140.0 52.1 L142.5 52.6 L145.0 53.1 L147.5 53.3 L150.0 53.5 L152.5 53.7 L155.0 53.8 L157.5 54.0 L160.0 54.2 L160.0 58.6 L157.5 58.4 L155.0 58.2 L152.5 58.1 L150.0 57.9 L147.5 57.7 L145.0 57.5 L142.5 57.0 L140.0 56.5 L137.5 56.1 L135.0 55.6 L132.5 55.1 L130.0 54.6 L127.5 54.1 L125.0 53.0 L122.5 51.2 L120.0 51.4 L117.5 51.9 L115.0 51.4 L112.5 50.9 L110.0 50.4 L107.5 49.9 L105.0 49.4 L102.5 49.1 L100.0 48.7 L97.5 48.4 L95.0 48.1 L92.5 47.8 L90.0 47.5 L87.5 47.2 L85.0 46.9 L82.5 46.7 L80.0 46.4 L77.5 46.2 L75.0 46.0 L72.5 45.8 L70.0 45.5 L67.5 45.3 L65.0 45.1 L62.5 45.1 L60.0 45.1 L57.5 45.1 L55.0 45.1 L52.5 45.1 L50.0 45.1 L47.5 45.1 L45.0 45.1 L42.5 45.4 L40.0 45.7 L37.5 46.0 L35.0 46.3 L32.5 46.6 L30.0 46.9 L27.5 47.9 L25.0 49.0 L22.5 50.0 L20.0 51.0 L17.5 52.1 L15.0 53.1 L12.5 53.7 L10.0 54.4 L7.5 55.0 L5.0 55.6 L2.5 56.3 L0.0 56.9 Z" fill="rgb(201,201,201)"/>
<path d="M0.0 50.9 L2.5 50.3 L5.0 49.6 L7.5 49.0 L10.0 48.4 L12.5 47.7 L15.0 47.1 L17.5 46.1 L20.0 45.0 L22.5 44.0 L25.0 43.0 L27.5 41.9 L30.0 40.9 L32.5 40.6 L35.0 40.3 L37.5 40.0 L40.0 39.7 L42.5 39.4 L45.0 39.1 L47.5 39.1 L50.0 39.1 L52.5 39.1 L55.0 39.1 L57.5 39.1 L60.0 39.1 L62.5 39.1 L65.0 39.1 L67.5 39.3 L70.0 39.5 L72.5 39.8 L75.0 40.0 L77.5 40.2 L80.0 40.4 L82.5 40.7 L85.0 40.9 L87.5 41.2 L90.0 41.5 L92.5 41.8 L95.0 42.1 L97.5 42.4 L100.0 42.7 L102.5 43.1 L105.0 43.4 L107.5 43.9 L110.0 44.4 L112.5 44.9 L115.0 45.4 L117.5 45.9 L120.0 45.4 L122.5 45.2 L125.0 47.0 L127.5 48.1 L130.0 48.6 L132.5 49.1 L135.0 49.6 L137.5 50.1 L140.0 50.5 L142.5 51.0 L145.0 51.5 L147.5 51.7 L150.0 51.9 L152.5 52.1 L155.0 52.2 L157.5 52.4 L160.0 52.6 L160.0 54.2 L157.5 54.0 L155.0 53.8 L152.5 53.7 L150.0 53.5 L147.5 53.3 L145.0 53.1 L142.5 52.6 L140.0 52.1 L137.5 51.7 L135.0 51.2 L132.5 50.7 L130.0 50.2 L127.5 49.7 L125.0 48.6 L122.5 46.8 L120.0 47.0 L117.5 47.5 L115.0 47.0 L112.5 46.5 L110.0 46.0 L107.5 45.5 L105.0 45.0 L102.5 44.7 L100.0 44.3 L97.5 44.0 L95.0 43.7 L92.5 43.4 L90.0 43.1 L87.5 42.8 L85.0 42.5 L82.5 42.3 L80.0 42.0 L77.5 41.8 L75.0 41.6 L72.5 41.4 L70.0 41.1 L67.5 40.9 L65.0 40.7 L62.5 40.7 L60.0 40.7 L57.5 40.7 L55.0 40.7 L52.5 40.7 L50.0 40.7 L47.5 40.7 L45.0 40.7 L42.5 41.0 L40.0 41.3 L37.5 41.6 L35.0 41.9 L32.5 42.2 L30.0 42.5 L27.5 43.5 L25.0 44.6 L22.5 45.6 L20.0 46.6 L17.5 47.7 L15.0 48.7 L12.5 49.3 L10.0 50.0 L7.5 50.6 L5.0 51.2 L2.5 51.9 L0.0 52.5 Z" fill="rgb(230,230,230)"/>
</g>
<path d="M0.0 86.9 L15.0 83.1 L30.0 76.9 L45.0 75.1 L65.2 75.1 L85.2 76.9 L105.3 79.4 L118.0 82.0 L122.0 80.8 L126.0 83.8 L145.4 87.6 L160.4 88.6 L160.4 108.0 L0.0 108.0Z" fill="#03040f" opacity="0.42" filter="url(#bl2)"/>
<path d="M0.0 50.9 L15.0 47.1 L30.0 40.9 L45.0 39.1 L65.2 39.1 L85.2 40.9 L105.3 43.4 L118.0 46.0 L122.0 44.8 L126.0 47.8 L145.4 51.6 L160.4 52.6" fill="none" stroke="#f2402c" stroke-width="1.1" stroke-linejoin="round" stroke-linecap="round"/>
<path d="M0.0 57.5 L15.0 53.7 L30.0 49.0 L45.0 47.2 L65.2 47.2 L85.2 49.0 L105.3 51.5 L118.0 52.6 L122.0 51.4 L126.0 54.4 L145.4 58.2 L160.4 59.2" fill="none" stroke="#7a1030" stroke-width="0.9" stroke-linejoin="round" stroke-linecap="round"/>
</g></g>
<g transform="translate(510,419)"><g clip-path="url(#cliptom)"><g filter="url(#oct4)">
<rect x="0" y="0" width="160" height="107" fill="rgb(6,6,6)"/>
<path d="M0.0 41.0 L27.0 51.0 L44.0 64.0 L46.0 68.0 L30.0 60.0 L0.0 52.0Z" fill="rgb(51,51,51)"/>
</g>
<path d="M0 42.5 L12 46 L27 53" stroke="#35c060" stroke-width="1.3" fill="none" opacity="0.9"/>
<path d="M0 50.4 L20 56.5 L44.7 65.5" stroke="#35c060" stroke-width="1.3" fill="none" opacity="0.9"/>
<path d="M0.0 39.4 C3.2 40.0 13.8 41.4 20.0 43.0 C26.2 44.6 35.0 47.3 38.8 49.7 C42.6 52.1 42.4 55.2 44.0 58.0 C45.6 60.8 47.7 65.5 49.0 67.4 C50.3 69.3 48.9 69.5 52.0 70.0 C55.1 70.5 64.1 69.8 68.3 70.4 C72.5 71.0 74.7 72.8 78.0 74.0 C81.3 75.2 85.5 77.6 89.0 77.8 C92.5 78.0 96.7 75.9 100.0 75.0 C103.3 74.1 107.7 72.1 109.6 71.9 C111.5 71.7 110.6 74.4 112.0 73.5 C113.4 72.6 117.0 66.8 118.4 66.0 C119.8 65.2 120.1 68.3 121.0 68.5 C121.9 68.7 123.2 68.0 124.3 67.4 C125.4 66.8 126.8 65.7 128.0 65.0 C129.2 64.3 130.3 62.7 131.7 63.0 C133.1 63.3 135.4 65.7 137.0 67.0 C138.6 68.3 139.9 70.4 142.0 71.0 C144.1 71.6 147.2 70.7 150.0 70.5 C152.8 70.3 158.1 69.9 159.7 69.8" fill="none" stroke="#f2402c" stroke-width="1.5" stroke-linejoin="round" stroke-linecap="round"/>
<g stroke="#cfcfcf" stroke-width="0.9" fill="none"><rect x="10.0" y="80.2" width="13.6" height="15.7"/><path d="M10.0 88.0 h13.6" stroke-width="1.4" stroke="#e8e8e8"/></g><text x="5.9" y="89.8" font-size="5.2" font-weight="bold" fill="#c4c4c4" text-anchor="middle">N</text><text x="29.3" y="89.8" font-size="5.2" font-weight="bold" fill="#c4c4c4" text-anchor="middle">T</text>
</g></g>
<g transform="translate(510,544.5)"><g clip-path="url(#cliptom)"><g filter="url(#oct5)">
<rect x="0" y="0" width="160" height="107" fill="rgb(6,6,6)"/>
<path d="M108.0 52.0 L118.0 46.0 L133.0 43.5 L160.0 38.5 L160.0 54.0 L140.0 54.0 L120.0 57.0 L110.0 62.0Z" fill="rgb(51,51,51)"/>
<path d="M111.0 50.5 L118.0 46.7 L133.0 44.2 L160.0 39.2 L160.0 42.6 L133.0 46.8 L118.0 49.5 L112.0 53.0Z" fill="rgb(140,140,140)"/>
</g>
<path d="M0.0 20.3 C0.6 20.3 2.8 15.7 4.0 20.3 C5.2 24.9 6.8 44.0 7.8 49.2 C8.8 54.4 9.3 51.8 10.0 52.5 C10.7 53.2 9.3 54.1 12.0 53.5 C14.7 52.9 22.8 49.5 27.0 48.5 C31.2 47.5 34.5 47.7 38.0 47.5 C41.5 47.3 46.5 46.7 49.0 47.2 C51.5 47.7 52.5 48.5 53.5 50.5 C54.5 52.5 54.5 57.4 55.0 60.0 C55.5 62.6 55.9 66.6 56.5 66.9 C57.1 67.2 58.1 63.4 59.0 62.0 C59.9 60.6 60.2 58.5 62.4 58.1 C64.6 57.7 70.4 57.9 72.7 59.5 C75.0 61.1 75.6 65.0 77.0 68.0 C78.4 71.0 80.5 75.6 81.6 78.5 C82.7 81.4 83.3 84.0 84.0 86.0 C84.7 88.0 85.4 90.9 86.0 91.1 C86.6 91.3 87.3 88.5 88.0 87.0 C88.7 85.5 89.1 83.9 90.4 81.5 C91.7 79.1 94.1 74.8 96.0 72.0 C97.9 69.2 100.7 65.6 102.0 64.0 C103.3 62.4 102.8 64.4 104.0 62.0 C105.2 59.6 107.4 51.9 109.6 49.2 C111.8 46.5 114.3 46.1 118.0 45.0 C121.7 43.9 128.5 43.3 133.0 42.5 C137.5 41.7 141.7 40.8 146.0 40.0 C150.3 39.2 157.5 37.9 159.7 37.5" fill="none" stroke="#f2402c" stroke-width="1.5" stroke-linejoin="round" stroke-linecap="round"/>
<g stroke="#cfcfcf" stroke-width="0.9" fill="none"><rect x="10.0" y="78.60000000000001" width="13.6" height="15.7"/><path d="M16.8 78.60000000000001 v15.7"/></g><text x="5.9" y="88.2" font-size="5.2" font-weight="bold" fill="#c4c4c4" text-anchor="middle">N</text><text x="29.3" y="88.2" font-size="5.2" font-weight="bold" fill="#c4c4c4" text-anchor="middle">T</text>
</g></g>
<g transform="translate(510,665.5)"><g clip-path="url(#cliptom)"><g filter="url(#oct6)">
<rect x="0" y="0" width="160" height="107" fill="rgb(0,0,0)"/>
<path d="M30.0 62.0 L35.8 57.1 L50.0 53.5 L65.3 51.8 L80.0 53.0 L97.8 58.5 L97.8 62.3 L80.0 56.8 L65.3 55.6 L50.0 57.3 L35.8 60.9 L30.0 65.8Z" fill="rgb(143,143,143)"/>
<path d="M27.0 55.0 L38.8 44.5 L48.0 41.0 L59.4 37.3 L68.0 39.0 L77.0 40.9 L97.0 43.5 L97.0 48.5 L77.0 45.9 L68.0 44.0 L59.4 42.3 L48.0 46.0 L38.8 49.5 L27.0 60.0Z" fill="rgb(102,102,102)"/>
<path d="M97.0 50.0 L130.0 62.0 L158.0 72.0 L158.0 78.0 L130.0 68.0 L97.0 58.0Z" fill="rgb(23,23,23)"/>
</g>
<path d="M23.5 67.5 L27.0 58.0 L41.7 45.3 L60.0 41.5 L97.0 45.5" stroke="#9a28a8" stroke-width="1.3" fill="none"/>
<path d="M0 0.6 H160" stroke="#f03a28" stroke-width="1.6"/>
<path d="M22 0 V61.5 L27 55 L38.8 44.5 L48 41 L59.4 37.3 L68 39 L77 40.9 L97 43.5 V0" stroke="#f03a28" stroke-width="1.5" fill="none" stroke-linejoin="round"/>
</g></g>
</svg>
</body></html>
